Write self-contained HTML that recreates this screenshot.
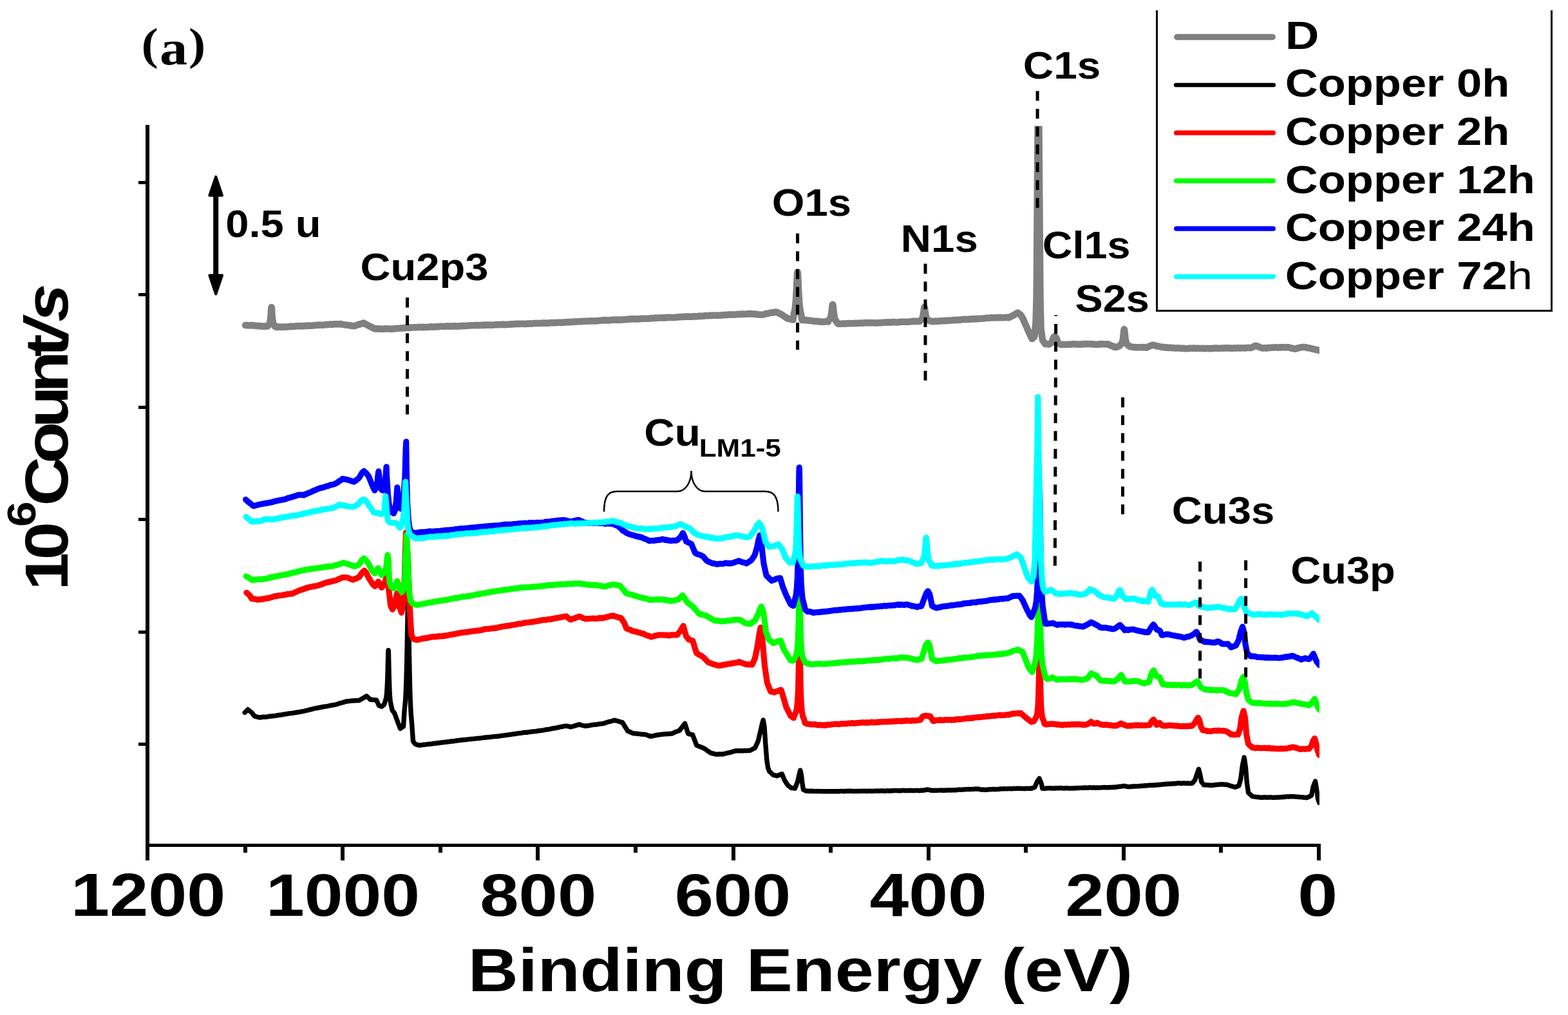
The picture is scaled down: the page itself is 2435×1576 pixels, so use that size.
<!DOCTYPE html>
<html lang="en"><head><meta charset="utf-8"><title>XPS survey spectra</title>
<style>
html,body{margin:0;padding:0;background:#fff;}
body{width:2435px;height:1576px;overflow:hidden;}
svg{display:block;}
text{font-kerning:none;fill:#000;white-space:pre;}
</style></head><body>
<svg xmlns="http://www.w3.org/2000/svg" width="2435" height="1576" viewBox="0 0 2435 1576">
<rect width="2435" height="1576" fill="#fff"/>
<defs><clipPath id="plot"><rect x="232" y="195.5" width="1817" height="1114.5"/></clipPath></defs>
<g clip-path="url(#plot)" fill="none" stroke-linejoin="round" stroke-linecap="round">
<polyline points="381.0,505.0 382.8,505.1 384.5,505.0 386.2,505.2 388.0,505.4 389.8,505.0 391.5,505.4 393.2,505.3 395.0,505.5 396.7,505.8 398.4,506.0 400.1,505.9 401.8,506.1 403.6,506.4 405.3,506.4 407.0,506.4 408.7,506.7 410.4,507.0 412.3,506.5 414.1,506.4 416.0,506.5 417.5,504.1 418.5,502.7 419.2,500.6 419.7,498.2 420.1,495.3 420.4,491.8 420.7,488.2 420.9,484.7 421.1,481.4 421.3,479.1 421.4,477.6 421.6,477.0 421.8,477.6 421.9,479.1 422.1,481.5 422.3,484.8 422.5,488.4 422.8,492.0 423.1,495.6 423.5,498.6 424.0,501.0 424.7,503.1 425.7,504.6 427.0,507.0 430.0,508.0 431.6,507.4 433.2,507.8 434.8,507.6 436.5,508.0 438.1,507.5 439.7,507.7 441.3,507.6 442.9,507.7 444.5,507.4 446.1,507.6 447.7,507.3 449.4,506.9 451.0,507.0 452.6,506.8 454.2,506.9 455.8,506.7 457.4,506.7 459.0,506.5 460.6,506.2 462.3,506.3 463.9,506.4 465.5,506.1 467.1,506.4 468.7,506.2 470.3,506.0 471.9,506.3 473.5,505.9 475.2,505.8 476.8,505.6 478.4,506.0 480.0,505.5 481.6,505.8 483.3,505.7 484.9,505.5 486.5,505.4 488.2,505.0 489.8,505.1 491.4,504.9 493.1,505.0 494.7,504.8 496.3,504.5 498.0,504.5 499.6,504.7 501.2,504.7 502.9,504.6 504.5,504.2 506.2,503.9 507.8,504.1 509.4,504.1 511.1,503.7 512.7,503.8 514.3,503.5 516.0,503.7 517.6,503.6 519.2,503.3 520.9,503.2 522.5,503.4 524.1,503.1 525.8,503.4 527.4,503.3 529.1,503.1 530.8,503.6 532.5,503.8 534.2,504.1 535.9,504.4 537.6,504.6 539.4,504.8 541.1,505.0 542.8,505.3 544.5,505.3 546.2,505.9 547.9,506.1 549.6,506.3 551.5,505.8 553.3,505.1 555.1,504.3 557.0,504.0 558.9,503.3 560.9,503.0 562.8,502.1 564.7,501.5 566.4,502.7 568.0,503.4 569.7,504.2 571.3,505.1 573.0,506.0 574.8,506.8 576.6,507.8 578.3,508.6 580.1,509.6 581.9,510.5 583.6,510.2 585.2,510.3 586.9,510.7 588.5,510.4 590.2,510.7 591.9,510.6 593.5,510.9 595.2,511.0 596.8,510.7 598.5,510.2 600.1,510.4 601.8,510.7 603.5,510.7 605.1,510.5 606.8,510.8 608.4,511.0 610.1,510.5 611.8,510.5 613.5,510.0 615.2,510.1 616.9,510.1 618.6,509.9 620.3,509.7 622.1,509.6 623.8,509.3 625.5,509.5 627.2,509.4 628.9,509.3 630.6,509.0 632.3,508.9 633.9,508.8 635.5,509.0 637.1,508.5 638.7,508.7 640.4,508.4 642.0,508.5 643.6,508.4 645.2,508.4 646.8,508.3 648.4,508.2 650.0,508.1 651.6,507.7 653.3,508.0 654.9,508.1 656.5,507.8 658.1,508.3 659.7,508.0 661.3,508.0 662.9,508.0 664.5,508.1 666.1,507.8 667.8,507.5 669.4,507.3 671.0,507.6 672.6,507.6 674.2,507.6 675.8,507.4 677.4,507.5 679.0,507.3 680.7,507.3 682.3,507.2 683.9,506.8 685.5,506.7 687.1,506.7 688.7,506.8 690.3,506.8 691.9,506.8 693.6,506.5 695.2,506.4 696.8,506.6 698.4,506.9 700.0,506.5 701.6,506.6 703.2,506.4 704.8,506.4 706.4,506.4 708.0,506.4 709.7,506.6 711.3,506.6 712.9,506.5 714.5,506.2 716.1,506.0 717.7,506.2 719.3,505.7 720.9,506.2 722.5,506.0 724.1,505.9 725.7,505.7 727.4,505.4 729.0,505.6 730.6,505.4 732.2,505.3 733.8,505.2 735.4,505.3 737.0,505.3 738.6,504.9 740.2,505.1 741.8,505.1 743.4,505.2 745.1,505.0 746.7,504.8 748.3,504.9 749.9,505.2 751.5,504.9 753.1,504.4 754.7,504.8 756.3,504.6 757.9,504.5 759.5,504.8 761.1,504.6 762.8,504.6 764.4,504.8 766.0,504.7 767.6,504.3 769.2,504.2 770.8,504.0 772.4,504.3 774.0,504.1 775.6,504.0 777.2,504.0 778.9,503.9 780.5,503.9 782.1,503.7 783.7,504.1 785.3,504.0 786.9,503.9 788.5,503.8 790.1,503.8 791.7,503.5 793.3,503.6 794.9,503.3 796.6,503.4 798.2,503.1 799.8,503.2 801.4,502.8 803.0,502.7 804.6,503.0 806.2,502.9 807.8,502.9 809.4,502.8 811.0,502.8 812.6,502.9 814.3,502.9 815.9,503.0 817.5,502.8 819.1,502.6 820.7,502.6 822.3,502.4 823.9,502.5 825.5,502.6 827.1,502.2 828.7,502.1 830.3,502.1 832.0,501.9 833.6,502.0 835.2,501.9 836.8,502.1 838.4,502.0 840.0,501.9 841.6,501.7 843.2,501.5 844.8,501.8 846.4,501.6 848.0,501.7 849.6,501.7 851.3,501.9 852.9,501.3 854.5,501.4 856.1,501.0 857.7,501.1 859.3,501.2 860.9,501.1 862.5,501.2 864.1,501.0 865.7,500.9 867.3,500.8 868.9,500.8 870.6,500.9 872.2,500.9 873.8,500.8 875.4,500.4 877.0,500.6 878.6,500.2 880.2,500.3 881.8,500.0 883.4,500.2 885.0,499.9 886.6,499.7 888.2,500.0 889.8,499.8 891.5,499.8 893.1,499.4 894.7,499.5 896.3,499.5 897.9,499.2 899.5,499.3 901.1,499.1 902.7,499.2 904.3,499.0 905.9,498.8 907.5,498.8 909.1,498.7 910.8,498.8 912.4,498.8 914.0,498.6 915.6,498.4 917.2,498.5 918.8,498.3 920.4,498.2 922.0,498.4 923.6,498.6 925.2,498.2 926.8,498.1 928.4,498.1 930.0,498.0 931.7,497.8 933.3,497.6 934.9,497.5 936.5,497.3 938.1,497.1 939.7,497.5 941.3,497.0 942.9,497.4 944.5,497.4 946.1,497.4 947.7,497.1 949.3,496.8 950.9,496.7 952.6,496.5 954.2,496.7 955.8,496.6 957.4,496.6 959.0,496.9 960.6,496.5 962.2,496.9 963.8,496.5 965.4,496.6 967.0,496.5 968.6,496.1 970.2,496.1 971.9,496.2 973.5,495.8 975.1,495.7 976.7,496.0 978.3,495.3 979.9,495.4 981.5,495.3 983.1,495.1 984.7,495.5 986.3,495.5 987.9,495.3 989.5,495.5 991.1,495.1 992.8,495.2 994.4,494.9 996.0,495.0 997.6,494.7 999.2,494.7 1000.8,494.8 1002.4,494.6 1004.0,494.7 1005.6,494.7 1007.2,494.6 1008.8,494.4 1010.4,494.5 1012.1,493.9 1013.7,494.1 1015.3,494.3 1016.9,493.8 1018.5,493.6 1020.1,493.8 1021.7,493.8 1023.3,493.5 1025.0,493.5 1026.6,493.5 1028.2,493.4 1029.9,493.4 1031.5,493.4 1033.1,493.5 1034.8,493.1 1036.4,493.0 1038.0,492.8 1039.6,493.2 1041.3,492.7 1042.9,492.9 1044.5,493.1 1046.2,493.0 1047.8,493.0 1049.4,492.7 1051.1,492.5 1052.7,492.3 1054.3,492.3 1056.0,492.2 1057.6,492.0 1059.2,491.9 1060.8,492.0 1062.5,491.8 1064.1,491.8 1065.7,491.5 1067.4,491.6 1069.0,491.6 1070.6,491.7 1072.3,491.8 1073.9,491.7 1075.5,491.4 1077.2,491.5 1078.8,491.4 1080.4,491.2 1082.1,491.4 1083.7,491.1 1085.3,491.2 1087.0,490.7 1088.6,490.9 1090.2,490.8 1091.8,490.8 1093.5,490.3 1095.1,490.3 1096.7,490.1 1098.4,490.2 1100.0,490.2 1101.6,489.7 1103.2,490.1 1104.8,490.0 1106.5,489.6 1108.1,489.8 1109.7,489.8 1111.3,489.7 1112.9,489.6 1114.5,489.6 1116.1,489.8 1117.7,489.7 1119.4,489.5 1121.0,489.4 1122.6,489.3 1124.2,489.1 1125.8,489.3 1127.4,488.9 1129.0,489.0 1130.6,488.7 1132.3,488.5 1133.9,488.4 1135.5,488.7 1137.1,488.6 1138.7,488.5 1140.3,488.4 1141.9,488.6 1143.5,488.3 1145.2,487.9 1146.8,488.0 1148.4,488.1 1150.0,487.7 1151.6,487.9 1153.2,487.6 1154.8,487.7 1156.4,487.7 1158.1,487.8 1159.7,487.5 1161.3,487.5 1162.9,487.1 1164.6,487.5 1166.2,487.4 1167.9,487.4 1169.6,487.6 1171.3,487.5 1173.0,487.9 1174.6,487.8 1176.3,488.1 1178.0,488.5 1179.7,488.5 1181.3,488.7 1183.0,488.7 1184.7,488.5 1186.4,488.3 1188.1,487.5 1189.9,487.2 1191.6,486.7 1193.3,486.6 1195.0,486.0 1196.7,485.8 1198.4,485.3 1200.1,485.4 1201.8,485.0 1203.5,484.8 1205.2,484.3 1207.0,485.1 1208.7,486.0 1210.5,486.8 1212.2,487.6 1214.0,488.5 1215.9,489.8 1217.8,491.2 1219.6,492.3 1221.5,493.6 1223.4,494.8 1225.0,495.1 1226.6,495.4 1228.3,495.8 1229.9,496.3 1231.5,496.4 1233.1,486.8 1234.3,481.6 1235.1,475.7 1235.8,468.3 1236.4,459.4 1236.9,450.5 1237.3,441.6 1237.6,433.5 1237.9,427.6 1238.2,423.9 1238.5,422.4 1238.8,423.9 1239.1,427.6 1239.4,433.6 1239.7,441.8 1240.1,450.7 1240.6,459.7 1241.2,468.7 1241.9,476.1 1242.7,482.1 1243.9,487.3 1245.5,497.0 1247.5,496.9 1249.6,496.8 1251.3,497.1 1252.9,497.2 1254.6,497.6 1256.2,497.5 1257.9,497.8 1259.6,497.8 1261.2,498.3 1262.9,498.7 1264.5,498.6 1266.2,498.8 1267.8,498.8 1269.5,499.1 1271.2,499.0 1272.8,499.2 1274.5,499.6 1276.1,499.7 1277.8,499.8 1279.4,499.6 1281.1,499.6 1282.7,499.3 1284.4,499.3 1286.0,499.5 1286.7,497.4 1288.2,496.0 1289.3,494.2 1290.1,492.0 1290.7,489.4 1291.2,486.1 1291.6,482.9 1292.0,479.7 1292.3,476.8 1292.6,474.7 1292.8,473.3 1293.1,472.8 1293.4,473.4 1293.6,474.8 1293.9,477.2 1294.2,480.4 1294.6,483.9 1295.0,487.4 1295.5,490.9 1296.1,493.8 1296.9,496.2 1298.0,498.2 1299.5,499.7 1300.5,502.0 1302.2,502.9 1303.8,502.7 1305.5,502.7 1307.1,502.6 1308.8,502.4 1310.4,502.6 1312.1,502.8 1313.7,502.5 1315.4,502.2 1317.0,502.2 1318.7,502.1 1320.3,502.3 1322.0,502.1 1323.6,502.2 1325.3,502.2 1326.9,501.8 1328.6,502.0 1330.2,501.7 1331.9,502.1 1333.5,501.9 1335.2,501.6 1336.8,501.6 1338.5,501.8 1340.1,501.5 1341.8,501.6 1343.4,501.3 1345.1,501.1 1346.7,501.0 1348.4,501.4 1350.0,501.5 1351.6,501.1 1353.2,501.2 1354.9,501.2 1356.5,501.3 1358.1,501.5 1359.7,501.5 1361.3,501.4 1362.9,501.4 1364.6,501.3 1366.2,501.1 1367.8,501.3 1369.4,500.9 1371.0,500.8 1372.7,500.8 1374.3,500.6 1375.9,500.6 1377.5,500.5 1379.1,500.3 1380.7,500.5 1382.4,500.6 1384.0,500.5 1385.6,500.1 1387.2,500.1 1388.8,500.2 1390.5,500.3 1392.1,500.6 1393.7,500.4 1395.3,500.2 1396.9,499.9 1398.5,499.8 1400.2,499.8 1401.8,499.8 1403.4,499.8 1405.0,499.8 1406.6,499.7 1408.3,499.7 1409.9,499.8 1411.5,499.8 1413.1,499.6 1414.7,499.3 1416.3,499.2 1418.0,498.7 1419.6,498.7 1421.2,499.2 1423.0,498.7 1424.7,498.9 1426.5,498.9 1428.2,498.8 1430.1,497.0 1431.4,495.9 1432.3,494.4 1432.9,492.6 1433.5,490.4 1433.9,487.8 1434.2,485.2 1434.6,482.5 1434.8,480.1 1435.1,478.3 1435.3,477.2 1435.5,476.8 1435.7,477.2 1435.9,478.3 1436.2,480.0 1436.4,482.3 1436.8,484.9 1437.1,487.4 1437.5,489.9 1438.1,492.1 1438.7,493.8 1439.6,495.2 1440.9,496.3 1443.4,498.0 1445.4,498.7 1447.4,499.2 1449.0,499.2 1450.7,498.9 1452.3,498.6 1454.0,499.0 1455.6,498.8 1457.3,498.6 1458.9,498.7 1460.6,498.3 1462.2,498.1 1463.8,498.2 1465.5,498.2 1467.1,497.9 1468.8,498.2 1470.4,497.8 1472.1,497.6 1473.7,497.9 1475.3,497.6 1477.0,497.4 1478.6,497.2 1480.3,496.8 1481.9,497.1 1483.6,497.0 1485.2,496.9 1486.8,497.0 1488.5,496.7 1490.1,496.6 1491.8,496.8 1493.4,496.3 1495.1,495.9 1496.7,495.8 1498.4,496.1 1500.0,496.0 1501.6,495.8 1503.2,495.9 1504.9,495.9 1506.5,495.4 1508.1,495.5 1509.7,495.5 1511.4,495.1 1513.0,495.5 1514.6,495.3 1516.2,494.9 1517.9,495.2 1519.5,494.8 1521.1,494.8 1522.7,494.8 1524.3,494.7 1526.0,494.6 1527.6,494.4 1529.2,494.3 1530.8,494.0 1532.5,493.8 1534.1,493.7 1535.7,493.7 1537.3,493.7 1539.0,493.2 1540.6,493.3 1542.2,493.2 1543.8,493.4 1545.4,493.2 1547.0,493.2 1548.7,493.0 1550.3,493.1 1551.9,493.2 1553.5,492.9 1555.1,493.3 1556.7,493.3 1558.3,493.2 1559.9,493.0 1561.6,493.0 1563.2,492.9 1564.8,492.9 1566.4,493.2 1568.3,492.2 1570.2,491.2 1572.1,490.4 1574.0,489.5 1575.6,488.5 1577.2,487.5 1578.9,486.5 1580.5,485.7 1582.8,487.3 1585.0,489.0 1586.8,491.9 1588.6,494.8 1590.4,499.1 1592.3,503.4 1594.2,507.6 1596.0,512.0 1597.7,515.5 1599.3,519.1 1601.0,522.6 1602.7,526.1 1604.5,524.5 1606.3,523.0 1608.6,500.0 1609.7,460.0 1611.6,196.0 1612.5,84.0 1613.4,196.0 1615.4,460.0 1616.5,510.0 1619.0,528.0 1621.0,531.0 1622.9,534.1 1624.9,534.2 1626.9,534.2 1628.9,534.7 1631.0,533.3 1633.0,532.0 1636.0,524.0 1638.0,522.2 1640.5,525.0 1643.5,533.0 1645.3,534.0 1647.1,535.1 1648.7,534.9 1650.3,535.0 1651.9,534.9 1653.5,535.0 1655.1,535.0 1656.7,534.7 1658.3,534.7 1659.9,534.8 1661.5,534.8 1663.1,534.8 1664.7,534.6 1666.3,534.2 1667.9,534.2 1669.5,534.4 1671.1,534.5 1672.7,534.4 1674.3,534.6 1675.9,534.6 1677.5,534.7 1679.1,534.4 1680.7,534.4 1682.3,534.2 1683.9,533.9 1685.5,534.2 1687.1,534.3 1688.7,534.0 1690.3,534.0 1691.9,534.1 1693.5,534.1 1695.1,534.5 1696.8,534.4 1698.4,534.4 1700.0,534.7 1701.7,534.8 1703.4,534.9 1705.0,534.7 1706.7,534.6 1708.4,534.1 1710.1,534.3 1711.8,534.2 1713.5,534.5 1715.2,534.5 1716.8,534.5 1718.5,534.2 1720.2,534.1 1721.9,535.0 1723.5,535.8 1725.2,536.5 1726.8,537.2 1728.5,537.7 1730.1,538.7 1731.8,539.2 1733.4,538.8 1735.0,538.4 1736.7,537.9 1738.3,537.2 1740.4,535.1 1741.7,533.8 1742.6,532.0 1743.2,529.9 1743.8,527.3 1744.2,524.2 1744.5,521.0 1744.9,517.9 1745.1,515.0 1745.4,512.9 1745.6,511.6 1745.8,511.1 1746.0,511.6 1746.2,512.9 1746.5,515.1 1746.7,518.0 1747.1,521.1 1747.4,524.3 1747.8,527.5 1748.4,530.1 1749.0,532.2 1749.9,534.1 1751.2,535.4 1753.4,537.5 1755.2,538.1 1757.0,538.4 1758.7,538.8 1760.5,539.2 1762.2,539.0 1763.9,539.2 1765.5,539.2 1767.2,539.5 1768.9,539.3 1770.6,539.3 1772.3,539.3 1774.0,539.5 1775.7,539.1 1777.3,539.3 1779.0,539.7 1780.7,539.6 1782.5,538.9 1784.3,537.8 1786.2,537.2 1788.0,536.4 1789.8,535.5 1791.6,536.0 1793.4,536.3 1795.2,537.1 1797.0,537.5 1799.0,537.6 1801.0,538.3 1802.9,538.5 1804.9,539.2 1806.6,539.0 1808.2,539.2 1809.9,539.7 1811.5,539.5 1813.2,539.9 1814.8,539.7 1816.5,539.9 1818.1,539.9 1819.8,540.2 1821.4,540.1 1823.1,540.4 1824.7,540.5 1826.4,540.6 1828.0,540.4 1829.7,540.5 1831.3,540.5 1833.0,540.8 1834.6,540.9 1836.2,540.8 1837.9,540.9 1839.5,541.1 1841.2,541.2 1842.8,541.3 1844.5,541.2 1846.1,541.1 1847.7,540.8 1849.4,540.7 1851.0,540.8 1852.6,540.9 1854.3,540.6 1855.9,540.8 1857.5,541.0 1859.2,540.8 1860.8,540.7 1862.4,541.0 1864.1,541.0 1865.7,541.0 1867.3,540.9 1869.0,541.1 1870.6,541.3 1872.2,541.1 1873.9,541.0 1875.5,541.0 1877.1,541.1 1878.8,541.2 1880.4,541.0 1882.0,541.1 1883.7,540.8 1885.3,540.9 1886.9,540.6 1888.6,540.6 1890.2,540.8 1891.8,540.9 1893.5,540.8 1895.1,540.8 1896.7,540.8 1898.4,540.6 1900.0,540.6 1901.6,540.5 1903.2,540.3 1904.8,540.6 1906.5,540.4 1908.1,540.2 1909.7,540.7 1911.3,540.5 1912.9,540.6 1914.5,540.7 1916.2,540.4 1917.8,540.6 1919.4,540.5 1921.0,540.4 1922.6,540.4 1924.2,540.3 1925.8,540.6 1927.5,540.4 1929.1,540.3 1930.7,540.2 1932.3,540.4 1933.9,540.5 1935.5,540.2 1937.2,540.0 1938.8,539.9 1940.4,540.1 1942.0,540.2 1943.6,539.6 1945.2,538.9 1946.9,538.1 1948.5,537.4 1950.1,536.8 1951.8,537.3 1953.5,537.9 1955.2,538.7 1956.8,539.4 1958.5,540.0 1960.2,540.6 1961.9,540.5 1963.5,540.4 1965.2,540.2 1966.9,540.7 1968.5,540.0 1970.2,540.1 1971.9,539.9 1973.5,539.9 1975.2,539.6 1976.9,539.5 1978.5,539.5 1980.2,539.5 1981.8,539.4 1983.5,539.6 1985.2,539.6 1986.8,539.5 1988.5,539.2 1990.2,539.5 1991.8,539.1 1993.5,539.2 1995.2,539.6 1996.8,539.4 1998.5,539.2 2000.2,539.2 2002.0,539.7 2003.7,540.1 2005.4,540.6 2007.1,540.7 2008.9,541.1 2010.6,541.6 2012.4,541.5 2014.1,540.8 2015.9,540.5 2017.7,539.9 2019.4,539.6 2021.2,539.3 2022.9,539.2 2024.7,538.8 2026.3,539.3 2027.9,539.4 2029.5,539.8 2031.2,540.3 2032.8,540.3 2034.4,540.7 2036.0,541.0 2037.6,541.5 2039.2,542.1 2040.9,542.3 2042.5,542.7 2044.1,543.1 2045.8,543.2 2047.4,543.7 2049.0,544.2 2050.8,544.6 2052.5,544.7 2054.2,545.0 2056.0,545.5" stroke="#808080" stroke-width="10.6"/>
<polyline points="380.2,1106.4 382.5,1104.2 384.9,1101.7 386.9,1103.2 388.9,1104.9 390.9,1106.4 392.9,1109.1 395.0,1111.8 396.7,1112.4 398.4,1112.8 400.0,1113.3 401.7,1113.8 403.4,1114.0 405.2,1113.8 406.9,1113.5 408.6,1113.2 410.3,1113.2 412.1,1113.3 413.8,1113.1 415.5,1112.8 417.2,1112.4 418.8,1112.1 420.5,1112.2 422.2,1111.7 423.9,1111.8 425.6,1111.6 427.2,1111.3 428.9,1111.1 430.6,1110.7 432.3,1110.6 434.0,1110.2 435.7,1110.1 437.3,1109.8 439.0,1109.5 440.7,1109.1 442.4,1108.9 444.1,1108.8 445.7,1108.4 447.4,1108.0 449.1,1107.8 450.8,1107.6 452.5,1107.4 454.1,1107.4 455.8,1107.0 457.5,1106.7 459.2,1106.3 460.9,1106.2 462.6,1105.7 464.2,1105.7 465.9,1105.4 467.6,1105.0 469.3,1104.7 471.0,1104.4 472.6,1104.1 474.3,1103.5 476.0,1103.1 477.7,1102.8 479.4,1102.4 481.1,1101.8 482.7,1101.5 484.4,1101.2 486.1,1100.7 487.8,1100.1 489.5,1099.9 491.1,1099.6 492.8,1099.1 494.5,1099.0 496.2,1098.6 497.9,1098.2 499.5,1098.1 501.2,1097.6 502.9,1097.2 504.5,1097.1 506.2,1096.9 507.9,1096.7 509.6,1096.2 511.2,1095.9 512.9,1095.5 514.6,1095.2 516.3,1095.0 517.9,1094.6 519.6,1094.4 521.3,1094.0 523.0,1093.6 524.8,1093.0 526.5,1092.3 528.3,1091.7 530.0,1091.3 531.8,1090.9 533.5,1090.5 535.3,1089.8 537.0,1089.3 538.8,1088.9 540.5,1088.8 542.2,1088.6 543.9,1088.5 545.6,1088.1 547.3,1088.0 549.1,1088.1 550.8,1087.8 552.5,1087.7 554.2,1087.7 555.9,1087.6 557.6,1087.6 559.4,1086.5 561.2,1085.6 563.0,1084.5 565.0,1083.3 567.1,1081.9 569.1,1080.8 571.1,1082.6 573.1,1084.3 575.1,1086.2 577.0,1086.3 578.9,1086.6 580.7,1086.6 582.6,1086.9 584.5,1086.9 586.5,1091.3 588.6,1095.6 590.6,1096.3 592.6,1097.2 594.5,1095.6 596.5,1094.0 598.7,1087.2 599.7,1083.0 600.5,1077.1 601.0,1070.4 601.4,1061.9 601.8,1051.8 602.1,1041.7 602.3,1031.5 602.6,1022.3 602.7,1015.5 602.9,1011.3 603.1,1009.6 603.3,1011.5 603.5,1016.1 603.6,1023.6 603.9,1033.9 604.1,1045.1 604.4,1056.3 604.8,1067.5 605.2,1076.8 605.7,1084.3 606.5,1090.9 607.5,1095.5 609.2,1103.0 611.0,1105.3 612.8,1107.7 614.5,1112.4 616.3,1117.2 618.0,1122.0 619.8,1126.6 621.5,1131.3 623.2,1130.2 624.8,1129.0 626.5,1128.0 628.1,1102.8 629.4,1089.2 630.3,1073.7 631.0,1054.3 631.6,1031.0 632.1,1007.7 632.5,984.4 632.9,963.1 633.2,947.6 633.5,937.9 633.8,934.0 634.1,938.3 634.4,949.2 634.7,966.5 635.1,990.4 635.5,1016.5 636.0,1042.5 636.6,1068.5 637.3,1090.2 638.2,1107.6 639.5,1122.8 641.5,1151.0 643.2,1153.2 645.0,1155.5 646.9,1156.0 648.9,1156.7 650.8,1157.4 652.4,1156.9 654.0,1156.9 655.6,1156.8 657.2,1156.3 658.8,1156.4 660.5,1156.1 662.1,1155.9 663.7,1155.6 665.3,1155.5 666.9,1155.2 668.6,1155.3 670.3,1155.1 671.9,1154.6 673.6,1154.4 675.3,1154.3 677.0,1154.2 678.7,1153.8 680.3,1153.9 682.0,1153.4 683.7,1153.0 685.4,1153.2 687.1,1152.7 688.8,1152.5 690.4,1152.5 692.1,1152.2 693.8,1152.0 695.5,1151.7 697.2,1151.7 698.8,1151.3 700.5,1151.0 702.2,1151.0 703.9,1150.8 705.6,1150.8 707.2,1150.3 708.9,1150.0 710.6,1150.0 712.3,1149.6 714.0,1149.3 715.7,1149.3 717.3,1149.0 719.0,1148.8 720.7,1148.5 722.4,1148.6 724.1,1148.5 725.7,1148.1 727.4,1147.9 729.1,1147.9 730.8,1147.5 732.5,1147.5 734.2,1147.3 735.8,1147.1 737.5,1146.9 739.2,1146.9 740.9,1146.6 742.6,1146.3 744.2,1146.3 745.9,1146.1 747.6,1145.8 749.3,1145.6 751.0,1145.3 752.6,1145.2 754.3,1145.2 756.0,1144.6 757.7,1144.8 759.4,1144.6 761.0,1144.5 762.7,1144.1 764.4,1143.9 766.1,1143.9 767.8,1143.7 769.5,1143.5 771.1,1143.5 772.8,1143.2 774.5,1143.1 776.2,1142.8 777.9,1142.5 779.5,1142.2 781.2,1142.1 782.9,1141.8 784.5,1141.7 786.2,1141.4 787.9,1141.1 789.6,1140.8 791.2,1140.7 792.9,1140.6 794.6,1140.2 796.3,1139.9 797.9,1139.7 799.6,1139.6 801.3,1139.1 803.0,1139.1 804.7,1138.7 806.3,1138.5 808.0,1138.4 809.7,1138.1 811.4,1137.8 813.1,1137.4 814.8,1137.3 816.4,1137.1 818.1,1137.3 819.8,1137.0 821.5,1136.7 823.2,1136.4 824.8,1136.3 826.5,1136.0 828.2,1135.9 829.9,1135.6 831.6,1135.5 833.2,1135.3 834.9,1135.0 836.6,1134.7 838.3,1134.6 840.0,1134.3 841.7,1134.2 843.3,1133.9 845.0,1133.5 846.7,1133.2 848.4,1132.8 850.1,1132.7 851.7,1132.5 853.4,1132.2 855.1,1131.8 856.7,1131.3 858.3,1131.0 859.9,1131.0 861.6,1130.6 863.2,1130.2 864.8,1130.0 866.4,1129.7 868.0,1129.2 869.6,1128.9 871.2,1128.5 872.8,1128.3 874.5,1127.9 876.1,1127.5 877.7,1127.3 879.3,1127.1 881.0,1127.5 882.6,1127.7 884.3,1128.3 886.0,1128.8 887.7,1128.2 889.4,1127.9 891.1,1127.4 892.8,1126.8 894.4,1126.4 896.1,1125.9 897.8,1125.4 899.5,1124.8 901.4,1125.4 903.3,1126.0 905.1,1126.5 907.0,1126.9 908.9,1127.3 910.6,1127.0 912.3,1127.0 913.9,1126.6 915.6,1126.5 917.3,1126.0 919.0,1125.7 920.7,1125.5 922.3,1125.2 924.0,1125.0 925.7,1125.1 927.4,1124.8 929.1,1124.4 930.8,1124.1 932.4,1123.9 934.1,1123.9 935.8,1123.6 937.5,1123.1 939.2,1122.8 940.9,1122.1 942.6,1121.5 944.3,1121.0 946.1,1120.4 947.8,1120.1 949.5,1119.8 951.2,1119.3 952.9,1118.8 954.6,1118.3 956.3,1118.9 958.1,1119.3 959.8,1119.8 961.5,1120.3 963.2,1120.9 965.0,1121.4 966.7,1121.9 968.3,1124.5 969.9,1127.2 971.6,1129.8 973.2,1132.4 974.8,1135.0 976.4,1135.7 978.0,1136.3 979.7,1137.1 981.3,1137.9 982.9,1138.6 984.6,1138.8 986.3,1138.9 988.0,1139.2 989.6,1139.1 991.3,1139.3 993.0,1139.6 994.7,1139.8 996.4,1140.1 998.0,1140.1 999.7,1140.3 1001.4,1140.4 1003.1,1140.6 1004.9,1141.4 1006.6,1142.0 1008.4,1142.8 1010.1,1143.4 1011.7,1143.0 1013.4,1142.8 1015.0,1142.4 1016.7,1142.1 1018.3,1141.7 1019.9,1141.3 1021.6,1141.2 1023.2,1140.6 1024.9,1140.7 1026.6,1140.4 1028.2,1140.2 1029.9,1140.1 1031.6,1139.8 1033.3,1139.7 1035.0,1139.6 1036.7,1139.4 1038.4,1139.5 1040.0,1139.5 1041.7,1139.1 1043.4,1139.0 1045.1,1138.3 1046.9,1137.6 1048.6,1136.7 1050.3,1136.0 1052.0,1135.4 1053.8,1134.7 1055.5,1134.0 1057.1,1131.8 1058.7,1129.7 1060.4,1127.6 1062.0,1125.4 1063.6,1123.3 1065.3,1128.6 1066.9,1133.8 1068.6,1139.0 1070.4,1139.7 1072.2,1139.9 1073.9,1140.7 1075.7,1141.0 1077.7,1146.4 1079.7,1151.8 1081.7,1157.2 1083.4,1158.0 1085.2,1158.6 1086.9,1159.3 1088.6,1160.0 1090.3,1160.7 1092.1,1161.5 1093.8,1162.2 1095.5,1163.4 1097.2,1164.5 1098.8,1165.8 1100.5,1166.9 1102.2,1168.0 1103.9,1169.3 1105.5,1169.6 1107.2,1169.9 1108.8,1170.4 1110.5,1170.8 1112.1,1171.1 1114.0,1171.3 1115.9,1170.9 1117.7,1171.0 1119.6,1170.9 1121.5,1171.1 1123.2,1170.7 1125.0,1170.5 1126.7,1169.9 1128.4,1169.5 1130.1,1168.9 1131.9,1168.7 1133.6,1168.4 1135.5,1167.9 1137.4,1167.2 1139.2,1166.8 1141.1,1166.2 1143.0,1165.7 1144.7,1165.7 1146.3,1165.7 1148.0,1165.7 1149.6,1165.6 1151.3,1165.8 1152.9,1165.6 1154.6,1165.7 1156.2,1165.5 1157.9,1165.7 1159.5,1165.5 1161.2,1165.5 1162.8,1165.4 1164.5,1165.4 1166.1,1164.7 1167.7,1163.7 1169.4,1162.8 1171.0,1162.0 1172.6,1161.0 1174.2,1157.4 1175.9,1153.7 1177.5,1150.0 1179.2,1142.5 1181.0,1135.0 1183.5,1124.0 1185.2,1118.0 1187.0,1128.0 1188.8,1155.0 1190.8,1180.0 1192.6,1192.0 1194.6,1197.6 1196.7,1199.5 1198.7,1201.4 1200.8,1203.4 1202.6,1203.7 1204.4,1204.1 1206.2,1204.7 1207.8,1204.1 1209.4,1203.6 1211.1,1202.8 1212.7,1202.2 1214.3,1201.7 1216.3,1206.6 1218.3,1211.4 1220.1,1214.1 1221.9,1216.9 1223.7,1219.5 1225.5,1220.9 1227.3,1222.2 1229.1,1223.5 1230.9,1223.6 1232.7,1223.8 1234.5,1224.2 1236.5,1219.1 1238.5,1214.0 1241.0,1203.0 1242.8,1196.0 1244.6,1204.0 1245.9,1216.0 1247.5,1226.2 1249.7,1227.1 1251.9,1228.2 1253.5,1228.2 1255.2,1228.1 1256.8,1228.3 1258.4,1228.5 1260.1,1228.2 1261.7,1228.5 1263.3,1228.5 1265.0,1228.6 1266.6,1228.6 1268.3,1228.6 1269.9,1228.5 1271.5,1228.5 1273.2,1228.7 1274.8,1228.6 1276.4,1228.6 1278.0,1228.8 1279.7,1228.7 1281.3,1228.6 1282.9,1228.8 1284.5,1228.9 1286.2,1228.7 1287.8,1228.8 1289.4,1228.7 1291.0,1228.7 1292.6,1228.7 1294.3,1228.6 1295.9,1228.8 1297.5,1228.6 1299.1,1228.7 1300.8,1228.7 1302.4,1228.8 1304.0,1228.7 1305.6,1228.4 1307.2,1228.4 1308.9,1228.6 1310.5,1228.7 1312.1,1228.6 1313.7,1228.2 1315.4,1228.4 1317.0,1228.5 1318.6,1228.2 1320.2,1228.3 1321.8,1228.2 1323.5,1228.3 1325.1,1228.6 1326.7,1228.6 1328.3,1228.4 1330.0,1228.4 1331.6,1228.5 1333.2,1228.5 1334.8,1228.3 1336.5,1228.4 1338.1,1228.4 1339.7,1228.3 1341.3,1228.4 1342.9,1228.3 1344.6,1228.3 1346.2,1228.5 1347.8,1228.3 1349.4,1228.3 1351.1,1228.2 1352.7,1228.3 1354.3,1228.5 1355.9,1228.4 1357.5,1228.1 1359.2,1228.1 1360.8,1228.2 1362.4,1227.9 1364.0,1228.2 1365.7,1228.1 1367.3,1228.0 1368.9,1228.2 1370.5,1227.8 1372.2,1228.0 1373.8,1228.3 1375.4,1228.3 1377.1,1227.8 1378.7,1227.8 1380.4,1228.0 1382.0,1228.0 1383.6,1228.0 1385.3,1227.7 1386.9,1227.7 1388.5,1227.6 1390.2,1227.5 1391.8,1227.5 1393.5,1227.6 1395.1,1227.7 1396.7,1227.8 1398.4,1227.7 1400.0,1227.6 1401.7,1227.2 1403.4,1227.4 1405.0,1227.5 1406.7,1227.7 1408.4,1227.5 1410.1,1227.7 1411.8,1227.5 1413.4,1227.2 1415.1,1227.5 1416.8,1227.6 1418.5,1227.5 1420.2,1227.6 1421.8,1227.4 1423.5,1227.4 1425.2,1227.3 1426.9,1227.7 1428.6,1227.5 1430.2,1227.2 1431.9,1227.4 1433.6,1227.3 1435.3,1226.8 1436.9,1226.7 1438.6,1226.3 1440.3,1225.9 1442.1,1226.3 1443.9,1226.8 1445.7,1227.3 1447.4,1227.3 1449.0,1227.3 1450.7,1227.5 1452.4,1227.2 1454.0,1227.4 1455.7,1227.3 1457.4,1227.1 1459.0,1227.1 1460.7,1227.1 1462.4,1227.0 1464.0,1227.3 1465.7,1227.2 1467.4,1227.2 1469.0,1227.0 1470.7,1227.0 1472.4,1227.0 1474.0,1226.8 1475.7,1226.8 1477.4,1227.0 1479.0,1226.8 1480.7,1226.9 1482.3,1226.6 1484.0,1226.7 1485.6,1226.7 1487.2,1226.3 1488.9,1226.2 1490.5,1226.0 1492.1,1226.2 1493.8,1226.1 1495.4,1226.1 1497.0,1225.8 1498.7,1225.7 1500.3,1225.6 1502.0,1225.6 1503.6,1225.5 1505.2,1225.5 1506.9,1225.6 1508.5,1225.4 1510.1,1225.4 1511.8,1225.4 1513.4,1225.2 1515.0,1224.9 1516.7,1225.2 1518.3,1224.9 1520.0,1225.2 1521.7,1225.7 1523.3,1226.0 1525.0,1226.2 1526.7,1226.0 1528.3,1226.2 1530.0,1226.1 1531.6,1226.3 1533.2,1226.2 1534.9,1225.7 1536.5,1225.7 1538.2,1225.8 1539.8,1225.6 1541.5,1225.5 1543.2,1225.7 1544.8,1225.4 1546.5,1225.6 1548.1,1225.6 1549.8,1225.4 1551.4,1225.3 1553.0,1225.0 1554.7,1224.8 1556.3,1224.9 1558.0,1224.7 1559.6,1224.8 1561.3,1224.6 1562.9,1224.6 1564.5,1224.8 1566.1,1224.6 1567.8,1224.5 1569.4,1224.6 1571.0,1224.8 1572.6,1224.4 1574.2,1224.3 1575.8,1224.5 1577.5,1224.4 1579.1,1224.3 1580.7,1224.3 1582.3,1224.3 1583.9,1224.4 1585.5,1224.2 1587.2,1224.4 1588.8,1224.4 1590.4,1224.7 1592.0,1224.5 1593.6,1224.1 1595.2,1224.3 1596.9,1224.4 1598.5,1224.2 1600.1,1224.1 1601.7,1224.2 1603.5,1223.5 1605.2,1223.0 1607.0,1222.2 1608.7,1218.1 1610.4,1214.0 1612.2,1211.4 1614.0,1208.7 1617.1,1216.5 1618.8,1224.2 1620.5,1224.0 1622.1,1224.4 1623.8,1224.2 1625.4,1224.0 1627.1,1223.9 1628.7,1223.9 1630.4,1223.8 1632.1,1223.8 1633.7,1224.1 1635.4,1224.0 1637.0,1224.2 1638.7,1223.8 1640.3,1223.9 1642.0,1223.8 1643.7,1223.8 1645.4,1223.6 1647.0,1223.5 1648.7,1223.8 1650.4,1223.8 1652.1,1224.1 1653.8,1223.8 1655.5,1223.8 1657.1,1223.9 1658.8,1223.8 1660.5,1224.0 1662.2,1224.1 1663.9,1223.9 1665.5,1224.1 1667.2,1223.9 1668.9,1223.8 1670.5,1223.7 1672.2,1223.7 1673.8,1223.5 1675.4,1223.6 1677.1,1223.4 1678.7,1223.4 1680.4,1223.4 1682.0,1223.3 1683.6,1223.3 1685.3,1222.9 1686.9,1223.2 1688.5,1223.3 1690.2,1223.2 1691.8,1222.8 1693.5,1222.9 1695.1,1223.0 1696.7,1223.2 1698.4,1223.0 1700.0,1223.0 1701.7,1223.3 1703.4,1223.0 1705.0,1223.1 1706.7,1222.9 1708.4,1223.1 1710.1,1222.9 1711.8,1222.8 1713.5,1222.7 1715.2,1222.5 1716.8,1222.9 1718.5,1222.7 1720.2,1222.7 1721.9,1222.8 1723.6,1222.4 1725.2,1222.5 1726.9,1222.7 1728.6,1222.3 1730.3,1222.3 1732.0,1222.2 1733.7,1222.1 1735.3,1221.7 1737.0,1221.5 1738.7,1221.2 1740.4,1221.1 1742.0,1220.9 1743.7,1220.7 1745.4,1220.3 1747.4,1220.7 1749.4,1221.2 1751.4,1221.5 1753.0,1221.6 1754.7,1221.4 1756.3,1221.5 1758.0,1221.2 1759.6,1221.0 1761.2,1220.8 1762.9,1221.0 1764.5,1220.9 1766.2,1220.9 1767.8,1220.7 1769.5,1220.7 1771.1,1220.5 1772.7,1220.2 1774.4,1220.3 1776.0,1220.1 1777.7,1219.7 1779.3,1220.0 1781.0,1219.8 1782.6,1219.5 1784.2,1219.3 1785.9,1219.4 1787.5,1219.2 1789.2,1219.1 1790.8,1219.2 1792.4,1218.9 1794.1,1219.1 1795.7,1218.7 1797.4,1218.6 1799.0,1218.8 1800.7,1218.3 1802.3,1218.3 1803.9,1218.2 1805.6,1217.9 1807.2,1217.8 1808.9,1217.7 1810.5,1217.5 1812.2,1217.2 1813.8,1217.3 1815.5,1217.2 1817.1,1217.0 1818.7,1217.1 1820.4,1216.8 1822.0,1216.8 1823.7,1216.8 1825.3,1216.5 1827.0,1216.3 1828.6,1216.2 1830.2,1215.9 1831.8,1216.1 1833.5,1216.3 1835.1,1216.2 1836.7,1216.2 1838.3,1216.0 1839.9,1216.2 1841.6,1216.3 1843.2,1216.4 1844.8,1216.0 1846.4,1216.4 1848.1,1216.5 1849.7,1216.2 1851.3,1216.2 1853.5,1213.7 1855.8,1211.0 1858.8,1202.0 1861.5,1194.3 1864.0,1204.0 1865.8,1214.0 1867.6,1216.4 1869.4,1218.8 1871.1,1218.9 1872.9,1218.8 1874.6,1218.9 1876.3,1219.0 1878.0,1219.2 1879.8,1219.3 1881.5,1219.2 1883.2,1219.2 1884.9,1219.0 1886.5,1218.7 1888.2,1218.6 1889.9,1218.4 1891.6,1218.3 1893.2,1218.2 1894.9,1217.9 1896.6,1217.7 1898.4,1218.0 1900.2,1217.9 1902.1,1218.3 1903.9,1218.2 1905.7,1218.5 1907.4,1219.0 1909.2,1219.6 1910.9,1220.3 1912.6,1220.7 1914.3,1221.3 1916.1,1221.8 1917.8,1222.3 1919.8,1221.5 1921.9,1220.9 1923.9,1220.0 1926.9,1209.0 1929.5,1188.0 1932.2,1176.1 1934.5,1192.0 1936.3,1215.0 1938.5,1230.6 1940.1,1232.2 1941.8,1233.7 1943.4,1235.2 1945.0,1236.6 1946.7,1236.9 1948.5,1237.1 1950.2,1237.3 1951.9,1237.6 1953.6,1237.5 1955.4,1237.9 1957.1,1238.2 1958.7,1238.2 1960.3,1238.3 1961.9,1238.0 1963.6,1238.0 1965.2,1237.9 1966.8,1238.2 1968.4,1238.2 1970.0,1238.1 1971.6,1238.0 1973.2,1238.0 1974.8,1238.1 1976.5,1238.3 1978.1,1238.3 1979.7,1238.4 1981.3,1238.2 1982.9,1238.0 1984.5,1238.2 1986.1,1238.0 1987.8,1237.8 1989.4,1237.6 1991.0,1237.8 1992.6,1237.3 1994.2,1237.5 1995.8,1237.3 1997.4,1236.9 1999.0,1236.9 2000.6,1237.0 2002.3,1236.9 2003.9,1236.8 2005.5,1236.7 2007.1,1236.6 2008.7,1236.8 2010.3,1236.9 2011.9,1237.1 2013.6,1237.1 2015.2,1237.2 2016.8,1237.5 2018.4,1237.6 2020.0,1237.6 2021.6,1237.9 2023.2,1237.9 2024.9,1238.3 2026.5,1238.4 2028.1,1238.7 2029.7,1238.5 2031.4,1237.7 2033.2,1237.0 2034.9,1236.1 2036.6,1235.1 2039.3,1221.5 2040.9,1217.4 2042.6,1213.2 2045.3,1230.0 2046.6,1240.0 2048.7,1246.5 2050.8,1247.0 2053.0,1247.5" stroke="#000000" stroke-width="7.4"/>
<polyline points="382.9,920.3 384.7,921.8 386.4,923.4 388.2,925.0 390.9,929.7 392.8,929.7 394.7,930.2 396.5,930.1 398.4,930.8 400.3,931.1 402.0,931.0 403.7,930.6 405.4,930.8 407.1,930.4 408.7,929.8 410.4,929.9 412.1,929.2 413.8,929.1 415.5,928.9 417.1,928.7 418.8,928.3 420.5,927.7 422.2,927.3 423.9,926.6 425.5,926.0 427.2,925.7 428.9,925.6 430.6,925.2 432.4,924.9 434.1,924.6 435.8,924.5 437.5,924.3 439.2,924.2 440.9,923.4 442.7,923.7 444.4,923.2 446.1,922.4 448.0,922.4 449.9,922.4 451.7,921.6 453.6,922.0 455.5,921.0 457.2,920.4 459.0,919.3 460.7,918.8 462.4,917.8 464.1,917.0 465.9,916.4 467.6,915.6 469.3,915.6 471.0,915.1 472.6,914.0 474.3,913.5 476.0,913.0 477.6,912.4 479.3,912.1 481.0,911.6 482.7,911.3 484.4,910.9 486.1,910.6 487.8,910.4 489.4,910.0 491.1,909.8 492.8,909.5 494.5,908.9 496.2,908.2 497.9,907.9 499.5,907.0 501.2,906.7 502.9,905.9 504.5,905.1 506.2,904.8 507.9,904.2 509.6,903.9 511.2,903.8 512.9,902.8 514.6,903.1 516.3,902.4 517.9,902.0 519.6,901.6 521.3,901.5 523.1,900.6 524.9,899.6 526.7,898.8 528.5,898.3 530.3,897.2 532.1,896.5 533.7,896.5 535.3,896.6 537.0,896.6 538.6,896.8 540.2,897.1 541.8,897.8 543.4,898.4 545.0,899.1 546.6,899.8 548.2,900.2 550.1,899.3 552.0,898.5 553.8,898.0 555.7,896.8 557.6,896.1 559.8,892.9 562.0,889.5 563.9,887.7 565.7,885.8 567.4,887.9 569.0,890.0 570.7,893.5 572.4,897.0 574.0,899.6 575.7,902.2 577.4,904.9 579.0,907.5 580.8,909.0 582.5,910.3 585.5,906.0 587.5,903.0 590.0,908.0 592.6,912.3 594.5,910.3 596.5,908.0 599.0,900.0 600.5,893.0 602.5,903.0 604.5,922.0 606.5,940.0 609.4,946.3 612.5,941.0 615.0,928.0 616.8,921.0 618.5,930.0 620.5,943.0 623.5,951.3 625.5,942.0 627.0,930.0 628.2,900.0 629.3,860.0 630.5,826.9 632.0,845.0 633.6,870.0 635.2,915.0 637.0,957.0 638.9,985.7 641.5,991.5 643.1,992.4 644.8,992.8 646.4,993.4 648.3,993.6 650.2,993.1 652.0,992.5 653.9,991.8 655.8,991.8 657.6,991.3 659.5,990.8 661.3,990.9 663.2,990.7 665.0,990.2 666.9,989.3 668.6,989.5 670.3,988.8 671.9,988.9 673.6,989.0 675.3,988.5 677.0,988.6 678.7,988.4 680.3,987.8 682.0,988.1 683.7,987.8 685.4,987.9 687.1,987.4 688.8,987.8 690.4,987.0 692.1,986.9 693.8,986.9 695.5,986.4 697.2,986.0 698.8,985.6 700.5,985.1 702.2,985.5 703.9,984.8 705.6,984.4 707.2,984.3 708.9,983.9 710.6,983.4 712.3,983.2 714.0,982.9 715.7,982.3 717.3,982.3 719.0,982.1 720.7,981.9 722.4,981.8 724.1,981.4 725.7,981.3 727.4,981.1 729.1,980.5 730.8,980.6 732.5,980.0 734.2,980.1 735.8,979.8 737.5,980.0 739.2,979.4 740.9,979.2 742.6,979.1 744.2,978.9 745.9,978.7 747.6,978.2 749.3,978.0 751.0,977.2 752.6,977.1 754.3,976.7 756.0,976.7 757.7,976.7 759.4,976.3 761.0,976.2 762.7,976.0 764.4,975.5 766.1,975.7 767.8,975.2 769.5,975.5 771.1,974.6 772.8,974.6 774.5,974.1 776.2,973.5 777.9,973.4 779.5,973.1 781.2,972.8 782.9,972.5 784.5,972.1 786.2,972.0 787.9,971.7 789.6,971.8 791.2,971.4 792.9,971.1 794.6,970.6 796.3,970.5 797.9,970.2 799.6,970.0 801.3,969.4 803.0,969.0 804.7,968.8 806.3,968.3 808.0,968.6 809.7,968.1 811.4,968.0 813.1,967.4 814.8,966.9 816.4,966.9 818.1,966.6 819.8,966.5 821.5,966.3 823.2,965.9 824.8,965.9 826.5,965.7 828.2,965.4 829.9,965.2 831.6,964.8 833.3,964.9 835.0,964.1 836.6,963.9 838.3,963.8 840.0,963.2 841.7,962.8 843.4,962.5 845.1,962.5 846.7,962.7 848.4,962.4 850.1,961.9 851.8,961.6 853.4,961.8 855.1,961.6 856.9,960.9 858.7,960.9 860.5,960.1 862.3,959.9 864.1,959.6 865.9,959.5 867.6,959.1 869.2,958.6 870.9,958.5 872.6,958.1 874.3,957.6 875.9,957.6 877.6,957.5 879.3,956.8 881.0,958.2 882.6,959.6 884.3,960.9 886.0,962.1 887.7,961.7 889.4,960.8 891.1,960.3 892.8,959.9 894.4,959.0 896.1,958.6 897.8,958.0 899.5,957.2 901.4,957.8 903.3,958.7 905.1,959.6 907.0,960.2 908.9,960.8 910.6,960.9 912.3,960.5 913.9,960.6 915.6,960.6 917.3,960.5 919.0,960.3 920.7,960.2 922.3,960.2 924.0,960.4 925.7,960.2 927.4,960.4 929.1,960.3 930.8,959.6 932.4,959.3 934.1,959.9 935.8,959.8 937.4,959.0 939.0,958.9 940.7,958.7 942.3,958.0 943.9,957.6 945.5,957.4 947.1,956.7 948.8,956.4 950.4,956.6 952.0,955.8 953.8,956.6 955.5,957.2 957.3,957.9 959.1,958.1 960.9,958.8 962.6,959.5 964.4,959.6 966.2,962.3 967.9,965.0 969.7,967.6 972.8,975.8 974.5,976.5 976.2,977.1 977.8,977.6 979.5,978.3 981.2,979.3 982.9,979.8 984.5,980.1 986.1,980.9 987.7,980.9 989.3,981.1 991.0,982.0 992.6,982.3 994.2,982.4 995.8,983.3 997.4,983.9 999.0,983.9 1000.7,984.8 1002.5,985.8 1004.2,986.4 1005.9,987.1 1007.6,987.4 1009.4,988.0 1011.1,988.9 1012.8,988.3 1014.6,988.0 1016.3,987.6 1018.0,987.0 1019.7,986.7 1021.5,986.4 1023.2,985.9 1024.8,985.9 1026.4,986.0 1028.1,986.0 1029.7,985.8 1031.3,986.1 1032.9,986.2 1034.5,986.2 1036.2,986.3 1037.8,986.1 1039.4,986.9 1041.1,986.3 1042.9,985.7 1044.6,986.0 1046.3,985.8 1048.0,985.9 1049.8,986.0 1051.5,985.9 1053.2,983.6 1054.8,981.7 1056.5,980.0 1058.8,975.8 1061.1,971.8 1063.3,979.7 1065.6,987.9 1067.6,990.3 1069.6,993.0 1071.6,993.7 1073.7,994.4 1075.7,995.0 1077.7,1001.3 1079.7,1007.8 1081.7,1014.1 1083.4,1015.0 1085.1,1016.4 1086.8,1017.0 1088.4,1017.9 1090.1,1018.8 1091.8,1020.2 1093.4,1021.7 1095.0,1023.3 1096.7,1025.1 1098.3,1026.9 1099.9,1028.3 1101.5,1029.0 1103.1,1029.7 1104.8,1030.2 1106.4,1031.1 1108.0,1031.4 1109.6,1031.7 1111.2,1032.2 1112.8,1032.6 1114.4,1033.4 1116.0,1033.5 1117.8,1033.5 1119.5,1033.2 1121.3,1032.7 1123.0,1032.6 1124.8,1031.9 1126.6,1032.0 1128.3,1031.6 1130.1,1031.1 1131.8,1030.7 1133.6,1030.5 1135.4,1030.5 1137.1,1029.8 1138.9,1029.7 1140.7,1029.4 1142.4,1028.9 1144.2,1028.9 1145.9,1028.2 1147.7,1027.7 1149.3,1028.2 1150.9,1028.8 1152.5,1029.4 1154.2,1030.1 1155.8,1030.3 1157.4,1031.1 1159.0,1031.8 1160.8,1031.3 1162.6,1032.0 1164.4,1031.7 1166.2,1031.9 1168.0,1032.1 1170.2,1027.1 1172.5,1022.0 1174.2,1013.5 1176.0,1005.0 1179.0,985.0 1181.3,974.3 1183.3,985.0 1185.0,1005.0 1187.4,1033.4 1189.4,1046.8 1191.4,1060.3 1193.2,1064.7 1195.0,1069.3 1196.8,1073.8 1198.6,1074.2 1200.4,1074.3 1202.2,1075.1 1204.0,1074.2 1205.7,1073.6 1207.5,1073.0 1209.3,1072.5 1211.1,1071.7 1212.9,1071.1 1215.0,1077.7 1217.0,1084.5 1219.0,1091.3 1221.0,1098.0 1222.7,1101.4 1224.3,1104.7 1226.0,1108.0 1227.7,1111.4 1230.1,1113.2 1232.4,1114.8 1234.2,1109.8 1236.4,1104.8 1237.6,1098.6 1238.5,1089.8 1239.1,1079.9 1239.6,1067.4 1240.0,1052.4 1240.3,1037.4 1240.6,1022.4 1240.9,1008.7 1241.1,998.7 1241.3,992.5 1241.5,990.0 1241.7,992.6 1241.9,999.3 1242.1,1009.9 1242.4,1024.5 1242.7,1040.3 1243.0,1056.2 1243.4,1072.2 1243.9,1085.4 1244.5,1096.0 1245.4,1105.3 1246.6,1111.9 1248.8,1117.2 1250.0,1122.5 1253.0,1124.0 1254.7,1124.1 1256.3,1124.3 1258.0,1124.7 1259.6,1124.5 1261.3,1124.9 1263.0,1125.0 1264.7,1124.8 1266.3,1124.7 1268.0,1125.4 1269.7,1125.8 1271.4,1125.8 1273.1,1125.4 1274.8,1126.0 1276.5,1125.9 1278.1,1125.9 1279.8,1126.5 1281.5,1125.5 1283.2,1126.1 1284.9,1125.1 1286.5,1125.3 1288.2,1125.4 1289.9,1125.1 1291.6,1124.7 1293.3,1124.7 1294.9,1124.5 1296.6,1124.2 1298.3,1124.0 1300.0,1124.2 1301.7,1124.5 1303.3,1124.6 1305.0,1123.9 1306.7,1123.9 1308.4,1123.9 1310.1,1123.9 1311.7,1123.5 1313.4,1123.9 1315.1,1123.5 1316.8,1123.2 1318.5,1123.1 1320.1,1123.2 1321.8,1122.9 1323.5,1122.6 1325.2,1122.9 1326.9,1123.3 1328.5,1122.9 1330.2,1122.6 1331.9,1122.6 1333.6,1122.5 1335.3,1122.0 1337.0,1122.3 1338.6,1121.9 1340.3,1121.7 1342.0,1122.2 1343.7,1121.9 1345.4,1122.2 1347.0,1121.5 1348.7,1122.1 1350.4,1122.0 1352.1,1121.6 1353.8,1121.1 1355.5,1121.8 1357.1,1121.6 1358.8,1121.9 1360.5,1121.6 1362.2,1121.4 1363.9,1120.8 1365.5,1121.4 1367.2,1120.9 1368.9,1120.8 1370.6,1120.7 1372.3,1120.8 1373.9,1120.7 1375.6,1120.7 1377.3,1120.7 1379.0,1120.9 1380.7,1120.1 1382.3,1120.4 1384.0,1120.1 1385.7,1120.5 1387.4,1120.0 1389.1,1119.7 1390.8,1120.2 1392.4,1119.6 1394.1,1119.7 1395.8,1119.5 1397.4,1119.9 1399.1,1119.3 1400.7,1120.0 1402.3,1119.4 1403.9,1119.1 1405.6,1119.5 1407.2,1118.8 1408.8,1118.5 1410.4,1119.1 1412.1,1119.3 1413.7,1119.0 1415.3,1119.5 1416.9,1118.7 1418.6,1118.8 1420.2,1119.1 1422.0,1118.5 1423.7,1118.8 1425.5,1118.4 1427.2,1118.1 1429.0,1118.0 1430.8,1115.5 1432.5,1113.0 1434.4,1111.8 1436.3,1111.4 1437.9,1111.2 1439.5,1111.6 1441.2,1111.5 1442.8,1112.2 1444.4,1112.1 1446.8,1115.7 1449.1,1119.5 1450.8,1119.6 1452.6,1118.7 1454.3,1118.3 1456.1,1118.5 1457.8,1118.2 1459.4,1117.5 1461.1,1118.4 1462.7,1118.1 1464.3,1118.4 1466.0,1118.1 1467.6,1117.5 1469.2,1117.9 1470.9,1117.9 1472.5,1117.8 1474.2,1117.7 1475.8,1117.6 1477.4,1118.1 1479.1,1117.6 1480.7,1117.5 1482.4,1118.0 1484.1,1117.2 1485.7,1116.7 1487.4,1117.0 1489.1,1116.7 1490.8,1116.8 1492.5,1116.8 1494.2,1116.4 1495.8,1116.0 1497.5,1116.0 1499.2,1115.7 1500.9,1115.4 1502.6,1115.1 1504.2,1115.0 1505.9,1115.4 1507.6,1114.8 1509.3,1115.1 1511.0,1114.9 1512.6,1114.0 1514.3,1114.2 1516.0,1114.0 1517.7,1113.9 1519.4,1113.4 1521.0,1113.6 1522.7,1113.5 1524.4,1113.3 1526.1,1112.8 1527.8,1113.0 1529.5,1112.7 1531.1,1112.6 1532.8,1111.9 1534.5,1112.1 1536.2,1112.1 1537.8,1112.0 1539.5,1111.6 1541.2,1111.5 1542.9,1111.3 1544.5,1111.6 1546.2,1111.0 1547.9,1110.9 1549.6,1110.7 1551.2,1110.5 1552.9,1110.1 1554.6,1110.7 1556.3,1110.5 1558.0,1110.7 1559.6,1110.4 1561.3,1110.1 1563.0,1109.9 1564.7,1109.9 1566.4,1109.9 1568.0,1109.0 1569.7,1109.1 1571.4,1108.3 1573.1,1108.0 1574.8,1108.1 1576.6,1107.9 1578.4,1107.7 1580.2,1107.7 1581.9,1107.8 1583.7,1107.2 1585.5,1107.4 1587.1,1109.1 1588.7,1110.3 1590.4,1112.1 1592.0,1113.1 1593.6,1114.8 1595.2,1115.9 1596.8,1117.4 1598.5,1118.4 1600.1,1119.8 1601.7,1120.8 1603.6,1120.2 1605.5,1120.0 1608.0,1115.6 1610.0,1111.2 1611.0,1105.7 1611.8,1098.0 1612.3,1089.2 1612.7,1078.2 1613.1,1065.0 1613.4,1051.8 1613.6,1038.6 1613.9,1026.5 1614.0,1017.7 1614.2,1012.2 1614.4,1010.0 1614.6,1012.3 1614.8,1018.0 1614.9,1027.1 1615.2,1039.6 1615.4,1053.3 1615.7,1067.0 1616.1,1080.7 1616.5,1092.1 1617.0,1101.2 1617.8,1109.2 1618.8,1114.9 1620.8,1119.4 1622.0,1124.0 1625.0,1124.9 1626.7,1124.6 1628.4,1124.5 1630.2,1124.3 1631.9,1123.8 1633.6,1124.2 1635.3,1124.2 1637.0,1124.0 1638.7,1124.7 1640.3,1124.5 1642.0,1125.1 1643.7,1124.8 1645.3,1125.0 1647.0,1125.7 1648.7,1125.5 1650.4,1125.9 1652.1,1125.1 1653.8,1125.2 1655.4,1125.4 1657.1,1125.2 1658.8,1124.9 1660.5,1125.3 1662.2,1124.9 1663.9,1124.8 1665.5,1125.0 1667.2,1124.6 1668.9,1124.9 1670.5,1124.8 1672.1,1124.6 1673.7,1124.9 1675.3,1124.6 1677.0,1124.8 1678.6,1124.8 1680.2,1125.0 1681.8,1125.5 1683.4,1125.5 1685.0,1125.5 1686.7,1124.9 1688.3,1124.5 1690.0,1124.0 1692.2,1122.2 1694.5,1120.8 1696.8,1122.5 1699.0,1123.8 1701.2,1123.5 1703.9,1122.2 1705.7,1123.2 1707.4,1124.1 1709.2,1124.9 1711.0,1124.8 1712.8,1125.6 1714.6,1125.6 1716.4,1125.1 1718.2,1125.4 1720.0,1125.5 1721.7,1126.0 1723.3,1125.9 1725.0,1126.2 1726.7,1126.6 1728.3,1126.5 1730.0,1126.9 1731.6,1126.5 1733.3,1127.0 1735.2,1126.1 1737.0,1125.2 1738.9,1124.3 1740.8,1123.2 1742.6,1124.4 1744.4,1124.9 1746.3,1125.6 1748.1,1126.3 1749.9,1127.0 1751.5,1127.1 1753.1,1127.0 1754.7,1126.8 1756.3,1126.7 1757.9,1126.8 1759.5,1126.4 1761.1,1126.3 1762.8,1126.2 1764.4,1126.2 1766.0,1126.2 1767.6,1125.8 1769.2,1126.5 1770.8,1126.5 1772.4,1126.1 1774.0,1126.2 1775.6,1126.5 1777.2,1126.1 1778.9,1126.4 1780.5,1126.0 1782.2,1126.0 1783.8,1126.0 1785.5,1125.5 1788.5,1120.0 1791.2,1117.4 1794.0,1121.0 1796.1,1125.5 1798.3,1123.9 1800.6,1122.4 1802.4,1124.2 1804.1,1125.8 1805.9,1127.0 1807.7,1127.0 1809.5,1126.7 1811.4,1126.9 1813.2,1126.5 1815.0,1126.2 1816.6,1126.3 1818.2,1126.2 1819.9,1126.6 1821.5,1126.6 1823.1,1126.8 1824.7,1126.9 1826.4,1127.2 1828.0,1126.9 1829.6,1127.2 1831.2,1127.3 1832.9,1127.6 1834.5,1127.8 1836.1,1127.7 1837.8,1127.3 1839.5,1127.7 1841.2,1127.5 1842.9,1127.7 1844.5,1127.4 1846.2,1127.2 1847.9,1127.5 1849.6,1127.0 1851.3,1127.0 1853.5,1124.5 1855.8,1122.0 1858.5,1117.0 1860.6,1114.4 1862.8,1119.0 1864.8,1128.0 1867.9,1133.8 1869.7,1134.0 1871.4,1134.0 1873.2,1134.7 1875.0,1135.3 1876.7,1135.2 1878.5,1135.6 1880.2,1135.2 1881.9,1135.4 1883.6,1134.6 1885.3,1134.6 1887.0,1134.5 1888.7,1134.7 1890.4,1134.6 1892.1,1134.1 1893.8,1134.5 1895.6,1134.5 1897.3,1134.7 1899.0,1134.8 1900.7,1134.7 1902.5,1135.1 1904.2,1135.3 1906.1,1136.5 1908.0,1137.6 1909.9,1139.0 1911.8,1140.6 1913.6,1140.2 1915.3,1140.7 1917.1,1140.9 1918.9,1140.6 1920.6,1140.2 1922.4,1140.6 1925.6,1132.0 1928.3,1113.0 1931.1,1103.8 1933.6,1115.0 1935.6,1140.0 1938.5,1155.0 1940.1,1156.6 1941.8,1158.1 1943.4,1159.5 1945.0,1161.0 1946.6,1160.7 1948.2,1161.1 1949.8,1161.7 1951.4,1161.2 1953.0,1161.1 1954.6,1161.5 1956.2,1161.3 1957.8,1161.3 1959.5,1161.8 1961.1,1161.5 1962.7,1161.4 1964.3,1161.4 1965.9,1161.6 1967.5,1161.8 1969.1,1161.7 1970.7,1161.2 1972.3,1162.2 1973.9,1161.9 1975.5,1162.1 1977.2,1161.9 1978.8,1162.4 1980.4,1162.2 1982.0,1162.5 1983.7,1162.5 1985.3,1162.7 1986.9,1162.5 1988.5,1162.2 1990.1,1162.6 1991.8,1162.3 1993.4,1162.2 1995.0,1162.5 1996.8,1162.3 1998.6,1162.1 2000.4,1161.6 2002.2,1161.0 2003.9,1161.1 2005.7,1160.4 2007.5,1160.0 2009.3,1160.3 2011.0,1160.5 2012.6,1161.3 2014.2,1161.7 2015.9,1162.2 2017.5,1162.7 2019.2,1163.3 2020.9,1163.1 2022.6,1162.9 2024.3,1162.9 2026.0,1163.1 2027.7,1162.9 2029.4,1162.6 2031.1,1162.6 2032.8,1162.8 2034.7,1160.3 2036.5,1158.0 2039.3,1150.0 2041.5,1146.6 2044.0,1155.0 2046.0,1165.0 2048.7,1172.3 2050.8,1172.8 2053.0,1173.3" stroke="#ff0000" stroke-width="9.2"/>
<polyline points="382.2,894.8 383.9,895.6 385.6,896.6 387.2,897.6 388.9,898.9 390.6,899.7 392.3,900.8 393.9,900.5 395.5,900.0 397.1,900.1 398.7,900.0 400.3,899.5 402.0,899.3 403.8,899.4 405.5,899.6 407.2,899.1 408.9,899.4 410.7,898.9 412.4,898.8 414.0,898.2 415.6,898.1 417.3,897.3 418.9,897.0 420.5,896.1 422.2,896.5 424.0,895.8 425.7,895.5 427.4,894.9 429.1,894.6 430.9,894.4 432.6,894.1 434.2,893.7 435.9,893.3 437.5,893.1 439.2,892.8 440.8,892.6 442.5,892.5 444.1,892.0 445.8,891.6 447.4,891.4 449.1,890.7 450.8,890.6 452.4,889.9 454.1,889.4 455.8,889.0 457.5,888.9 459.2,888.6 460.9,887.6 462.6,887.6 464.2,887.2 465.9,886.8 467.6,886.1 469.3,885.6 471.0,885.3 472.6,885.5 474.3,884.6 476.0,884.3 477.7,884.4 479.4,883.9 481.1,884.1 482.7,883.4 484.4,883.1 486.1,883.0 487.8,882.7 489.5,882.7 491.1,882.1 492.8,882.0 494.5,882.0 496.2,881.8 497.9,881.4 499.5,881.0 501.2,881.0 502.9,880.8 504.6,880.2 506.2,879.9 507.9,880.1 509.6,879.2 511.2,879.7 512.9,879.6 514.6,879.3 516.3,879.1 518.0,878.7 519.7,877.8 521.4,877.5 523.1,877.2 524.9,876.4 526.6,876.0 528.3,875.5 530.0,875.1 531.7,874.5 533.4,873.7 535.0,874.2 536.6,875.2 538.3,875.2 539.9,875.8 541.5,876.0 543.4,877.2 545.3,877.3 547.1,878.2 549.0,879.1 550.9,879.3 552.6,878.5 554.2,877.9 555.9,877.4 557.6,876.6 559.5,873.5 561.5,870.0 563.2,868.7 565.0,866.8 566.8,868.6 568.5,870.0 570.5,872.8 572.4,875.3 574.2,879.1 576.0,882.6 577.8,886.0 579.8,888.1 581.8,890.4 583.4,888.0 585.0,885.5 587.2,882.0 589.5,886.0 592.6,892.8 594.5,891.1 596.5,889.0 599.0,884.0 600.1,878.0 601.0,868.0 602.0,861.7 603.0,868.0 603.4,878.0 604.2,895.0 605.0,904.0 607.5,911.0 609.5,912.3 611.4,913.6 614.5,907.0 616.8,902.2 619.0,908.0 621.5,916.0 624.2,919.4 626.8,915.0 628.7,904.0 629.3,878.0 630.6,852.0 631.4,830.7 632.6,852.0 633.9,878.0 634.6,904.0 635.9,923.0 638.0,933.0 641.0,937.5 643.7,938.5 645.5,938.9 647.3,939.1 649.1,939.2 650.8,938.7 652.5,938.5 654.1,938.2 655.8,937.8 657.5,937.5 659.2,937.2 660.8,937.0 662.5,936.8 664.2,936.1 665.9,935.9 667.5,935.8 669.2,935.1 671.0,935.1 672.8,934.7 674.6,933.9 676.4,933.8 678.2,933.9 680.0,933.5 681.6,932.9 683.3,932.9 684.9,932.7 686.5,932.1 688.1,932.1 689.8,931.8 691.4,931.7 693.0,931.4 694.7,931.2 696.3,930.9 697.9,930.5 699.5,930.2 701.2,929.6 702.8,929.6 704.4,929.2 706.0,928.7 707.7,928.6 709.3,928.6 710.9,928.2 712.6,927.8 714.2,927.9 715.8,927.3 717.4,926.7 719.1,926.1 720.7,926.4 722.3,926.3 723.9,926.1 725.5,925.6 727.1,925.5 728.8,925.5 730.4,925.3 732.0,924.5 733.6,924.4 735.2,924.2 736.8,923.8 738.4,923.3 740.0,923.3 741.7,922.6 743.3,922.4 744.9,922.6 746.5,921.9 748.1,921.6 749.7,921.1 751.3,921.0 752.9,920.8 754.6,920.7 756.2,920.0 757.8,920.0 759.4,919.9 761.0,919.3 762.6,919.1 764.2,918.6 765.8,918.6 767.5,918.5 769.1,917.8 770.7,917.9 772.3,917.5 773.9,917.3 775.5,917.1 777.2,916.8 778.8,916.2 780.4,916.0 782.0,916.2 783.6,915.8 785.2,915.7 786.9,915.7 788.5,915.5 790.1,915.2 791.7,915.0 793.3,914.4 794.9,914.5 796.6,913.8 798.2,913.8 799.8,913.7 801.4,913.3 803.0,913.3 804.6,913.1 806.2,913.0 807.8,912.7 809.5,911.9 811.1,912.5 812.7,912.1 814.3,912.1 815.9,911.9 817.5,912.0 819.1,912.2 820.7,911.9 822.4,911.7 824.0,911.4 825.6,911.2 827.2,911.5 828.8,910.8 830.4,910.8 832.0,911.0 833.6,910.9 835.3,910.4 836.9,910.7 838.5,910.7 840.1,910.4 841.7,909.7 843.3,909.9 845.0,909.8 846.6,909.5 848.2,909.2 849.9,908.9 851.5,908.4 853.2,909.0 854.8,908.4 856.4,908.9 858.1,908.1 859.7,908.4 861.4,907.8 863.0,907.7 864.6,907.5 866.3,907.8 867.9,907.2 869.6,907.6 871.2,907.1 872.9,906.8 874.6,907.3 876.2,907.3 877.9,907.0 879.6,907.1 881.2,906.6 882.9,906.8 884.5,906.5 886.2,906.7 887.9,907.0 889.5,906.6 891.2,906.3 892.9,905.8 894.5,906.2 896.2,906.2 897.8,906.1 899.5,906.3 901.1,905.9 902.8,906.6 904.4,906.9 906.0,906.7 907.7,907.0 909.3,907.3 910.9,907.8 912.6,907.9 914.2,907.7 915.9,908.3 917.5,908.2 919.1,908.2 920.8,908.3 922.4,908.8 924.0,908.2 925.7,908.3 927.3,909.0 929.0,908.9 930.6,909.2 932.3,909.8 933.9,910.0 935.6,909.9 937.2,910.6 938.9,910.8 940.5,910.3 942.2,909.8 943.9,909.3 945.5,908.9 947.2,908.5 948.9,908.3 950.6,907.6 952.3,907.5 954.1,907.7 955.8,908.0 957.5,908.4 959.2,908.8 961.0,909.0 962.7,909.3 964.4,911.5 966.1,913.2 967.8,915.3 969.4,917.5 971.1,919.2 972.8,921.4 974.6,921.9 976.3,922.1 978.1,922.7 979.8,923.2 981.6,923.4 983.4,924.4 985.1,924.6 986.9,925.4 988.6,925.7 990.3,926.4 992.0,927.0 993.7,927.3 995.4,927.8 997.1,928.0 998.9,928.9 1000.6,928.8 1002.3,929.2 1004.0,929.7 1005.7,930.2 1007.4,930.9 1009.1,931.4 1010.8,931.5 1012.4,931.2 1014.1,931.2 1015.7,931.0 1017.4,931.0 1019.0,930.7 1020.7,931.1 1022.3,930.9 1024.0,931.1 1025.6,930.8 1027.3,930.4 1028.9,930.7 1030.5,931.5 1032.1,931.6 1033.7,931.4 1035.3,932.1 1037.0,931.9 1038.6,932.3 1040.2,932.9 1041.8,932.8 1043.4,933.1 1045.3,932.5 1047.2,932.4 1049.2,931.6 1051.1,931.1 1053.0,931.0 1054.8,929.2 1056.5,927.9 1058.3,926.1 1060.1,924.4 1062.0,927.4 1063.8,930.0 1065.7,932.7 1067.6,935.5 1069.2,936.7 1070.8,937.9 1072.5,939.1 1074.1,940.3 1075.7,941.5 1077.4,943.4 1079.0,945.3 1080.7,947.4 1082.4,949.2 1084.0,951.2 1085.7,953.2 1087.4,953.5 1089.2,954.0 1090.9,954.4 1092.6,954.9 1094.3,955.3 1096.1,956.1 1097.8,956.7 1099.5,957.5 1101.2,958.6 1102.8,959.7 1104.5,960.7 1106.2,961.6 1107.9,962.7 1109.7,963.4 1111.4,963.9 1113.2,963.7 1114.9,963.9 1116.7,964.1 1118.4,964.4 1120.2,964.9 1121.9,964.4 1123.5,964.3 1125.2,964.7 1126.9,964.4 1128.6,963.6 1130.2,963.7 1131.9,963.8 1133.6,963.5 1135.4,963.0 1137.2,962.7 1139.0,962.9 1140.8,962.2 1142.6,962.3 1144.4,962.2 1146.1,962.0 1147.8,962.5 1149.4,962.6 1151.1,963.5 1152.8,964.5 1154.4,965.7 1156.1,966.7 1157.8,967.6 1159.5,968.2 1161.2,968.1 1162.8,968.7 1164.5,968.9 1166.1,968.0 1167.7,966.8 1169.4,965.5 1171.0,964.4 1172.6,963.5 1174.8,958.6 1177.0,954.0 1180.0,946.0 1182.3,941.7 1184.6,947.0 1186.7,958.0 1189.4,981.0 1191.8,986.9 1194.1,993.1 1195.8,994.4 1197.4,995.8 1199.1,997.3 1200.8,998.5 1202.5,998.0 1204.2,997.2 1205.8,996.7 1207.5,995.8 1209.9,995.4 1212.3,994.5 1214.7,1001.3 1217.0,1007.9 1218.7,1010.7 1220.3,1013.5 1222.0,1016.0 1223.7,1018.7 1225.7,1022.1 1227.7,1025.4 1229.8,1025.8 1231.8,1026.0 1234.4,1021.6 1236.6,1017.1 1237.7,1011.6 1238.6,1003.8 1239.2,994.9 1239.6,983.8 1240.0,970.5 1240.4,957.2 1240.6,943.9 1240.9,931.6 1241.1,922.8 1241.3,917.2 1241.5,915.0 1241.7,917.3 1241.9,923.0 1242.1,932.1 1242.4,944.6 1242.6,958.3 1243.0,972.0 1243.4,985.7 1243.8,997.1 1244.4,1006.2 1245.3,1014.2 1246.4,1019.9 1248.6,1024.4 1250.5,1029.0 1253.5,1030.5 1255.5,1030.4 1257.4,1031.1 1259.3,1031.0 1261.3,1031.4 1263.0,1031.4 1264.7,1031.2 1266.3,1030.8 1268.0,1030.8 1269.7,1030.8 1271.4,1030.6 1273.1,1030.7 1274.8,1030.7 1276.4,1031.0 1278.1,1031.2 1279.8,1031.1 1281.5,1030.7 1283.2,1030.8 1284.8,1030.9 1286.5,1030.4 1288.2,1030.1 1289.9,1030.1 1291.6,1030.0 1293.2,1030.1 1294.9,1029.7 1296.6,1029.6 1298.3,1029.2 1300.0,1029.7 1301.7,1029.1 1303.3,1028.6 1305.0,1028.9 1306.7,1028.5 1308.4,1028.5 1310.1,1028.4 1311.7,1028.0 1313.4,1028.1 1315.1,1028.1 1316.8,1027.8 1318.5,1027.7 1320.1,1027.7 1321.8,1027.6 1323.5,1027.3 1325.2,1027.0 1326.9,1027.2 1328.5,1027.5 1330.2,1026.8 1331.9,1026.7 1333.6,1026.3 1335.3,1026.7 1337.0,1026.9 1338.6,1026.8 1340.3,1026.4 1342.0,1026.0 1343.7,1026.6 1345.4,1025.6 1347.0,1025.5 1348.7,1025.6 1350.4,1025.6 1352.1,1025.3 1353.8,1025.2 1355.5,1024.9 1357.1,1025.1 1358.8,1024.9 1360.5,1024.5 1362.2,1025.0 1363.9,1024.9 1365.5,1024.5 1367.2,1024.4 1368.9,1024.0 1370.6,1024.1 1372.3,1023.4 1373.9,1023.1 1375.6,1023.0 1377.3,1023.0 1379.0,1023.3 1380.7,1023.0 1382.3,1022.5 1384.0,1022.4 1385.7,1022.5 1387.4,1022.0 1389.1,1022.0 1390.8,1021.8 1392.4,1022.3 1394.1,1021.8 1395.8,1021.3 1397.5,1020.9 1399.2,1021.3 1400.9,1021.2 1402.6,1020.7 1404.3,1021.0 1406.0,1021.2 1407.7,1021.5 1409.4,1021.3 1411.0,1021.8 1412.7,1022.2 1414.3,1022.2 1416.0,1023.0 1417.6,1023.6 1419.3,1023.7 1420.9,1024.0 1422.6,1024.5 1424.2,1024.7 1425.9,1024.5 1427.6,1023.8 1429.3,1023.2 1431.0,1023.0 1432.8,1017.4 1434.5,1012.0 1436.2,1006.5 1438.0,1001.0 1441.0,997.5 1443.5,1002.0 1445.5,1012.0 1447.3,1023.0 1448.9,1023.7 1450.5,1024.7 1452.2,1025.6 1453.8,1026.7 1455.5,1026.1 1457.2,1026.0 1458.8,1026.1 1460.5,1025.9 1462.2,1025.7 1463.9,1025.9 1465.6,1025.0 1467.2,1025.1 1468.9,1024.8 1470.6,1024.7 1472.3,1024.1 1474.0,1024.5 1475.7,1024.2 1477.3,1024.0 1479.0,1023.9 1480.7,1023.4 1482.4,1023.3 1484.1,1022.8 1485.7,1022.8 1487.4,1022.3 1489.1,1021.9 1490.8,1022.0 1492.5,1022.3 1494.2,1021.5 1495.8,1021.7 1497.5,1021.1 1499.2,1020.9 1500.9,1021.1 1502.6,1021.0 1504.2,1020.9 1505.9,1020.3 1507.6,1020.0 1509.3,1020.3 1511.0,1019.9 1512.6,1019.5 1514.3,1019.2 1516.0,1019.0 1517.7,1018.6 1519.4,1018.5 1521.0,1018.4 1522.7,1018.3 1524.4,1017.7 1526.1,1017.9 1527.8,1018.0 1529.5,1017.7 1531.1,1017.3 1532.8,1017.1 1534.5,1017.3 1536.2,1017.0 1537.8,1017.0 1539.5,1017.0 1541.2,1016.7 1542.9,1016.8 1544.5,1016.3 1546.2,1016.1 1547.9,1016.0 1549.6,1016.0 1551.2,1015.3 1552.9,1015.5 1554.6,1015.8 1556.3,1015.2 1558.0,1015.1 1559.6,1014.9 1561.3,1014.6 1563.1,1014.5 1564.9,1013.9 1566.7,1013.2 1568.5,1012.7 1570.3,1012.0 1572.1,1011.3 1573.8,1010.6 1575.6,1010.1 1577.3,1009.6 1579.1,1009.1 1580.8,1008.6 1582.7,1009.7 1584.5,1010.5 1586.3,1011.5 1588.2,1012.6 1590.2,1018.0 1592.3,1023.4 1594.1,1027.8 1595.8,1032.3 1597.6,1036.8 1599.4,1039.0 1601.2,1041.3 1603.0,1043.5 1604.7,1037.7 1606.5,1032.0 1608.2,1024.8 1609.4,1014.8 1610.2,1003.3 1610.9,989.0 1611.5,971.8 1612.0,954.5 1612.4,937.3 1612.7,921.5 1613.0,910.0 1613.3,902.9 1613.6,900.0 1613.9,903.0 1614.2,910.6 1614.5,922.8 1614.8,939.5 1615.2,957.8 1615.7,976.0 1616.3,994.2 1617.0,1009.4 1617.8,1021.6 1619.0,1032.2 1620.7,1039.8 1623.5,1052.0 1625.9,1054.3 1628.2,1053.7 1630.5,1053.5 1632.5,1052.6 1634.6,1051.6 1636.5,1053.0 1638.5,1054.0 1640.2,1054.8 1642.0,1055.4 1643.7,1055.2 1645.4,1054.6 1647.0,1054.7 1648.7,1054.8 1650.4,1054.5 1652.1,1054.8 1653.8,1055.1 1655.5,1054.6 1657.2,1054.6 1658.8,1054.8 1660.5,1054.4 1662.2,1054.3 1663.9,1054.1 1665.6,1054.9 1667.2,1054.2 1668.9,1054.8 1670.6,1054.5 1672.3,1054.6 1674.0,1054.9 1675.7,1055.2 1677.4,1055.4 1679.0,1055.6 1680.7,1055.8 1682.4,1055.6 1684.1,1054.8 1685.7,1054.4 1687.3,1053.7 1689.0,1053.0 1690.8,1050.5 1692.7,1048.1 1694.5,1045.5 1696.1,1046.1 1697.7,1047.0 1699.3,1047.5 1700.9,1048.3 1702.5,1048.9 1704.2,1051.0 1705.8,1052.8 1707.4,1054.8 1709.1,1056.6 1710.7,1056.8 1712.4,1057.1 1714.0,1057.0 1715.6,1057.2 1717.3,1056.9 1718.9,1057.3 1720.5,1057.2 1722.1,1057.6 1723.8,1057.3 1725.4,1057.7 1727.0,1058.0 1728.7,1057.7 1730.3,1058.2 1732.2,1056.6 1734.1,1055.1 1736.0,1054.0 1737.7,1051.7 1739.4,1049.8 1741.1,1047.9 1743.0,1051.3 1745.0,1054.6 1746.9,1058.2 1748.5,1058.1 1750.2,1058.4 1751.8,1058.0 1753.5,1058.1 1755.1,1058.1 1756.8,1058.0 1758.4,1057.4 1760.1,1057.7 1761.7,1057.7 1763.4,1057.2 1765.0,1057.4 1766.7,1057.6 1768.5,1058.4 1770.2,1058.8 1771.9,1059.6 1773.6,1060.1 1775.4,1060.6 1777.1,1061.2 1778.9,1060.1 1780.8,1059.9 1782.7,1059.5 1784.5,1059.0 1786.2,1052.5 1788.0,1046.0 1789.8,1043.3 1791.5,1040.8 1793.8,1045.3 1796.0,1050.0 1798.3,1050.9 1800.6,1051.3 1802.4,1055.1 1804.1,1058.9 1805.9,1062.7 1807.6,1062.7 1809.3,1062.7 1810.9,1063.4 1812.6,1063.6 1814.3,1063.4 1816.0,1063.2 1817.6,1063.4 1819.3,1064.0 1821.0,1063.4 1822.7,1063.6 1824.4,1063.9 1826.0,1063.4 1827.7,1063.8 1829.4,1063.5 1831.1,1063.4 1832.7,1063.9 1834.4,1064.3 1836.1,1064.2 1837.8,1063.6 1839.5,1063.8 1841.2,1063.9 1842.9,1064.3 1844.5,1064.4 1846.2,1063.8 1847.9,1063.9 1849.6,1063.8 1851.3,1063.4 1853.2,1062.2 1855.0,1060.5 1857.3,1059.2 1859.6,1057.8 1861.4,1061.1 1863.1,1064.1 1864.9,1067.2 1866.8,1068.2 1868.7,1069.2 1870.5,1069.9 1872.4,1071.0 1874.1,1070.7 1875.7,1071.0 1877.4,1070.9 1879.1,1071.6 1880.8,1071.6 1882.4,1071.0 1884.1,1071.5 1885.8,1071.5 1887.4,1071.3 1889.1,1072.1 1890.9,1071.6 1892.6,1071.6 1894.4,1071.5 1896.2,1071.5 1897.9,1071.8 1899.7,1071.5 1901.5,1072.0 1903.2,1073.2 1905.0,1074.0 1906.8,1074.5 1908.5,1075.4 1910.3,1076.3 1912.1,1076.7 1913.9,1076.5 1915.7,1077.1 1917.5,1077.2 1919.3,1077.8 1921.0,1075.2 1922.8,1072.5 1924.5,1070.0 1926.2,1063.5 1927.8,1057.0 1930.7,1050.9 1933.4,1060.0 1935.6,1076.0 1938.5,1086.5 1940.1,1087.7 1941.8,1089.1 1943.4,1090.1 1945.0,1091.4 1946.6,1091.4 1948.2,1091.4 1949.8,1091.4 1951.4,1091.5 1953.0,1092.1 1954.6,1091.4 1956.2,1091.9 1957.8,1091.7 1959.5,1091.9 1961.1,1092.2 1962.7,1092.4 1964.3,1092.5 1965.9,1092.7 1967.5,1092.6 1969.1,1092.5 1970.7,1092.9 1972.3,1092.2 1973.9,1092.9 1975.5,1092.6 1977.2,1092.9 1978.8,1092.9 1980.4,1092.4 1982.0,1092.6 1983.7,1093.1 1985.3,1092.8 1986.9,1093.0 1988.5,1093.0 1990.1,1093.2 1991.8,1093.0 1993.4,1093.4 1995.0,1092.9 1996.8,1092.8 1998.6,1092.7 2000.4,1092.3 2002.2,1091.9 2003.9,1091.3 2005.7,1090.9 2007.5,1090.5 2009.3,1090.2 2010.9,1090.4 2012.6,1091.2 2014.2,1091.5 2015.8,1091.6 2017.4,1092.4 2019.1,1092.3 2020.7,1092.9 2022.4,1093.1 2024.2,1093.3 2025.9,1093.7 2027.6,1093.9 2029.3,1094.4 2031.1,1094.7 2032.8,1095.2 2035.0,1093.2 2037.3,1091.0 2039.4,1088.1 2041.5,1085.1 2043.5,1090.5 2045.6,1096.0 2048.7,1102.0 2050.8,1102.5 2053.0,1103.0" stroke="#00ff00" stroke-width="9.2"/>
<polyline points="381.5,775.6 383.2,777.2 385.0,778.7 386.7,780.2 388.4,781.3 390.1,783.0 391.9,784.3 393.6,785.7 395.4,785.3 397.2,785.0 399.0,784.1 400.8,784.0 402.6,783.3 404.4,783.0 406.1,782.6 407.9,782.3 409.6,782.1 411.4,781.3 413.1,781.6 414.8,781.2 416.6,780.8 418.3,780.5 420.1,780.3 421.8,779.7 423.5,779.4 425.2,778.8 427.0,778.2 428.7,778.1 430.4,777.6 432.1,777.0 433.8,777.0 435.5,776.6 437.3,776.1 439.0,775.9 440.7,775.6 442.3,775.5 443.9,774.7 445.5,774.1 447.2,773.1 448.8,773.1 450.4,772.4 452.0,772.3 453.6,771.4 455.2,771.2 456.8,770.6 458.4,770.3 460.1,769.7 461.7,768.8 463.3,768.7 464.9,768.2 466.6,768.4 468.2,768.3 469.9,768.3 471.6,768.9 473.2,767.8 474.9,767.6 476.5,766.3 478.1,766.0 479.8,765.1 481.4,764.7 483.1,763.8 484.7,763.2 486.3,762.1 488.0,761.4 489.6,761.2 491.2,760.4 492.9,759.4 494.5,758.8 496.2,758.3 497.9,757.5 499.5,757.5 501.2,757.0 502.9,756.6 504.6,755.8 506.2,755.1 507.9,755.0 509.6,754.5 511.2,753.8 512.9,753.1 514.6,752.8 516.3,752.6 518.0,751.9 519.6,751.5 521.3,750.8 523.1,749.8 524.9,748.4 526.7,747.1 528.5,746.0 530.3,744.8 532.1,743.4 534.0,743.9 535.9,744.1 537.7,744.5 539.6,745.0 541.5,745.4 543.1,746.0 544.7,746.4 546.4,747.2 548.0,747.7 549.6,748.1 551.2,747.0 552.8,746.0 554.4,744.6 556.0,743.4 557.6,742.0 559.8,738.3 562.0,734.5 565.0,731.3 566.8,733.1 568.5,734.5 570.5,736.9 572.4,739.3 574.2,743.9 576.0,748.4 577.8,752.8 579.8,757.3 581.8,761.5 584.5,757.0 586.0,748.0 587.0,738.0 587.9,731.9 588.8,738.0 589.4,746.0 590.5,755.0 592.5,760.5 594.6,761.5 596.7,758.0 598.4,746.0 599.3,735.0 600.0,724.9 600.7,741.0 602.4,767.6 603.8,781.0 606.0,790.0 608.5,795.5 611.4,797.1 614.0,791.0 615.6,775.0 616.8,756.8 618.0,770.0 619.5,782.0 622.2,789.8 624.5,785.0 627.0,765.0 628.9,741.0 629.4,722.0 630.0,700.0 630.7,685.8 631.2,722.0 631.6,741.0 632.5,781.0 634.3,808.0 636.3,821.0 637.9,823.9 639.5,826.5 641.6,826.9 643.7,827.6 645.4,827.5 647.0,827.3 648.7,826.8 650.3,826.8 652.0,826.4 653.6,826.3 655.2,826.0 656.9,826.1 658.6,826.3 660.2,826.3 661.9,825.6 663.5,825.5 665.1,825.5 666.8,824.9 668.5,825.0 670.1,825.1 671.8,825.5 673.4,825.2 675.0,825.3 676.7,824.7 678.4,824.9 680.0,824.6 681.6,825.1 683.2,824.5 684.8,824.2 686.4,824.1 688.0,823.7 689.6,824.0 691.2,823.5 692.8,823.1 694.4,823.2 696.0,823.6 697.6,822.9 699.2,823.1 700.8,822.7 702.4,822.8 704.0,822.4 705.6,822.1 707.2,821.6 708.8,822.0 710.4,821.4 712.0,821.4 713.6,821.0 715.2,820.6 716.8,820.8 718.4,820.8 720.0,820.5 721.6,820.6 723.2,820.2 724.8,820.2 726.4,820.1 728.0,819.9 729.6,819.6 731.2,819.7 732.8,819.0 734.4,819.3 736.0,819.2 737.6,818.9 739.2,818.6 740.8,818.7 742.4,818.7 744.0,818.1 745.6,818.0 747.2,818.2 748.8,817.8 750.4,817.6 752.0,817.6 753.6,817.2 755.2,817.3 756.8,817.0 758.4,816.9 760.0,816.8 761.7,816.4 763.3,816.7 765.0,816.6 766.6,816.2 768.3,816.6 769.9,815.9 771.6,816.0 773.2,816.4 774.9,815.7 776.5,815.9 778.2,815.4 779.8,814.9 781.5,814.8 783.1,814.7 784.8,814.2 786.4,814.6 788.1,814.3 789.7,814.3 791.4,814.3 793.0,814.3 794.7,814.1 796.3,813.8 798.0,813.9 799.6,813.6 801.3,813.5 802.9,813.3 804.5,813.2 806.1,812.8 807.8,812.8 809.4,812.7 811.0,813.1 812.6,812.8 814.2,812.2 815.8,812.3 817.4,812.6 819.0,812.6 820.6,812.3 822.3,811.6 823.9,812.2 825.5,811.6 827.1,812.2 828.7,811.9 830.3,812.0 831.9,811.7 833.5,811.6 835.2,811.3 836.8,811.8 838.4,811.6 840.0,811.3 841.6,811.5 843.2,811.3 844.8,811.1 846.4,810.4 848.0,810.0 849.6,810.4 851.2,810.0 852.8,810.3 854.4,809.9 856.0,809.4 857.6,809.1 859.3,809.0 860.9,808.9 862.5,808.7 864.1,808.4 865.7,808.2 867.3,808.2 868.9,808.1 870.5,807.9 872.1,808.0 873.7,807.5 875.3,807.5 877.1,807.8 878.9,808.1 880.6,808.4 882.4,808.9 884.2,809.9 886.0,810.3 887.7,809.5 889.5,809.1 891.2,809.0 893.0,808.2 894.7,808.3 896.5,807.6 898.2,807.2 900.0,807.9 901.8,808.9 903.5,809.3 905.3,810.6 907.1,811.1 908.9,812.0 910.5,811.5 912.1,812.1 913.8,812.1 915.4,811.9 917.0,811.9 918.6,812.0 920.3,811.7 921.9,812.3 923.5,811.9 925.1,812.0 926.8,811.8 928.4,811.9 930.0,812.5 931.7,812.4 933.4,812.5 935.1,812.5 936.9,812.7 938.6,812.8 940.3,813.3 942.0,812.9 943.7,813.0 945.5,813.0 947.2,813.2 948.9,813.2 950.6,813.5 952.3,813.8 954.0,814.4 955.7,815.4 957.3,815.7 959.0,816.5 960.7,817.5 962.8,819.4 965.0,821.5 967.1,823.8 968.8,824.6 970.5,825.8 972.1,827.0 973.8,827.8 975.5,828.6 977.1,829.3 978.8,829.9 980.5,830.4 982.2,831.0 983.9,831.1 985.5,831.6 987.2,832.5 989.0,832.8 990.8,832.9 992.6,833.8 994.4,833.8 996.2,834.3 998.0,835.2 999.8,836.1 1001.6,836.6 1003.4,837.4 1005.1,838.0 1006.9,839.2 1008.7,839.9 1010.4,839.5 1012.2,839.4 1013.9,839.5 1015.6,839.7 1017.3,838.9 1019.1,839.0 1020.8,838.6 1022.4,838.4 1024.0,838.5 1025.7,838.2 1027.3,837.4 1028.9,837.2 1030.6,837.8 1032.4,838.3 1034.1,838.2 1035.8,838.8 1037.5,838.8 1039.3,839.1 1041.0,839.9 1042.8,839.4 1044.6,839.3 1046.4,839.0 1048.2,839.4 1050.0,839.2 1051.8,838.6 1053.7,836.7 1055.6,835.0 1057.5,833.0 1060.5,827.6 1063.0,833.0 1065.6,840.7 1067.2,841.4 1068.8,842.3 1070.5,843.0 1072.1,843.9 1073.7,844.7 1075.7,849.5 1077.7,854.2 1079.7,858.8 1081.4,859.4 1083.2,860.4 1084.9,860.9 1086.6,861.4 1088.3,862.2 1090.1,863.1 1091.8,863.9 1093.8,866.3 1095.8,868.7 1097.8,870.9 1099.6,871.8 1101.4,872.7 1103.1,873.3 1104.9,874.1 1106.7,874.8 1108.4,874.8 1110.1,875.2 1111.7,875.8 1113.4,876.1 1115.1,875.7 1116.8,875.7 1118.5,875.3 1120.2,875.5 1121.8,875.5 1123.5,875.2 1125.2,874.8 1126.9,874.1 1128.5,874.4 1130.1,874.5 1131.8,875.0 1133.4,874.6 1135.0,874.8 1136.7,874.2 1138.5,874.0 1140.2,873.4 1141.9,872.5 1143.6,872.2 1145.4,871.5 1147.1,870.8 1148.8,871.5 1150.6,872.0 1152.3,872.9 1154.0,873.2 1155.7,873.6 1157.5,874.2 1159.2,874.8 1160.8,873.9 1162.4,872.7 1164.0,871.6 1165.6,870.6 1167.2,869.4 1169.6,865.8 1172.0,862.0 1173.8,856.0 1175.5,850.0 1178.0,838.0 1180.0,831.0 1182.0,840.0 1184.0,858.0 1186.0,875.0 1188.0,884.3 1190.1,893.6 1191.7,895.3 1193.3,896.7 1195.0,898.5 1196.6,900.2 1198.2,901.7 1199.8,900.9 1201.4,900.6 1203.0,899.8 1204.6,899.2 1206.2,898.3 1208.0,898.1 1209.8,897.9 1211.6,897.6 1213.6,904.3 1215.6,911.1 1217.4,915.4 1219.2,920.0 1221.0,924.5 1222.7,927.8 1224.3,931.2 1226.0,934.7 1227.7,938.0 1229.8,939.6 1231.8,940.7 1234.1,932.1 1236.3,923.5 1237.4,912.8 1238.3,897.7 1238.9,880.5 1239.3,859.0 1239.8,833.2 1240.1,807.5 1240.3,781.7 1240.6,758.0 1240.8,740.8 1241.0,730.1 1241.2,725.8 1241.4,730.2 1241.6,741.2 1241.8,758.9 1242.1,783.2 1242.3,809.7 1242.7,836.1 1243.1,862.6 1243.5,884.7 1244.1,902.4 1245.0,917.8 1246.1,928.8 1248.3,937.7 1250.5,946.5 1253.0,949.0 1254.8,949.8 1256.7,949.5 1258.5,949.8 1260.3,950.4 1262.2,951.1 1264.0,951.4 1265.6,950.9 1267.2,950.8 1268.8,950.6 1270.5,950.5 1272.1,950.6 1273.7,950.1 1275.3,950.4 1276.9,949.7 1278.5,949.7 1280.1,950.0 1281.7,949.3 1283.4,949.4 1285.0,949.3 1286.6,948.8 1288.2,948.7 1289.9,948.7 1291.6,948.2 1293.2,948.1 1294.9,947.5 1296.6,947.4 1298.3,947.6 1300.0,947.7 1301.7,947.0 1303.3,946.8 1305.0,947.1 1306.7,946.6 1308.4,946.5 1310.1,946.2 1311.7,946.5 1313.4,946.1 1315.1,946.1 1316.8,945.4 1318.5,945.8 1320.1,945.3 1321.8,945.5 1323.5,945.2 1325.2,945.3 1326.9,944.8 1328.5,944.8 1330.2,944.7 1331.9,944.8 1333.6,944.6 1335.3,944.5 1337.0,944.0 1338.6,944.0 1340.3,943.5 1342.0,943.4 1343.7,943.2 1345.4,943.0 1347.0,942.9 1348.7,942.8 1350.4,942.4 1352.1,942.9 1353.8,942.0 1355.5,942.7 1357.1,942.1 1358.8,942.3 1360.5,941.8 1362.2,941.7 1363.9,941.7 1365.5,941.6 1367.2,941.1 1368.9,941.3 1370.6,941.3 1372.3,940.6 1373.9,940.8 1375.6,940.7 1377.3,940.9 1379.0,940.4 1380.7,940.2 1382.3,940.0 1384.0,940.3 1385.7,939.9 1387.4,939.7 1389.1,939.9 1390.8,939.3 1392.4,939.0 1394.1,938.7 1395.8,939.3 1397.5,938.7 1399.2,939.2 1400.9,938.8 1402.6,939.2 1404.3,939.5 1406.0,938.6 1407.7,938.7 1409.4,938.7 1411.0,939.4 1412.7,939.6 1414.3,940.2 1416.0,940.9 1417.6,940.8 1419.3,941.4 1420.9,941.7 1422.6,941.8 1424.2,942.7 1425.9,941.8 1427.6,941.7 1429.3,941.5 1431.0,941.0 1433.0,935.5 1435.0,930.0 1436.8,925.6 1438.5,921.0 1441.0,917.8 1443.5,922.0 1445.5,931.0 1447.5,941.0 1449.6,942.1 1451.7,942.9 1453.8,944.0 1455.5,943.7 1457.2,943.4 1458.8,942.8 1460.5,942.8 1462.2,941.9 1463.8,942.0 1465.5,941.6 1467.2,941.3 1468.8,941.1 1470.4,941.2 1472.1,940.8 1473.7,940.6 1475.3,940.5 1476.9,939.7 1478.5,939.9 1480.2,939.9 1481.8,939.5 1483.4,939.3 1485.0,938.9 1486.6,938.9 1488.2,938.4 1489.9,938.6 1491.5,938.5 1493.1,937.9 1494.7,938.0 1496.3,937.1 1497.9,936.8 1499.5,937.0 1501.1,936.6 1502.8,936.4 1504.4,936.3 1506.0,936.5 1507.6,936.0 1509.3,935.4 1510.9,935.4 1512.6,935.4 1514.3,935.2 1516.0,935.3 1517.7,934.5 1519.3,934.3 1521.0,934.2 1522.7,934.2 1524.3,933.8 1526.0,933.8 1527.7,933.3 1529.4,933.3 1531.1,933.1 1532.8,932.9 1534.4,932.4 1536.1,932.1 1537.8,931.8 1539.5,931.3 1541.2,931.4 1542.9,931.1 1544.5,930.9 1546.2,931.2 1547.9,930.6 1549.5,930.8 1551.1,930.3 1552.7,929.8 1554.3,929.9 1556.0,929.7 1557.6,930.1 1559.2,929.4 1560.8,929.4 1562.4,929.2 1564.0,929.2 1565.9,928.7 1567.8,927.6 1569.6,927.2 1571.5,925.9 1573.4,925.2 1575.3,925.5 1577.2,925.2 1579.1,925.1 1581.0,925.3 1582.9,924.9 1584.7,927.1 1586.4,929.7 1588.2,931.9 1590.0,936.1 1591.8,940.0 1593.6,944.0 1595.4,947.7 1597.2,951.2 1599.0,954.8 1601.7,958.2 1603.3,954.3 1605.0,950.3 1607.9,942.3 1609.4,932.4 1610.5,918.6 1611.3,902.7 1611.9,882.9 1612.4,859.1 1612.8,835.3 1613.2,811.5 1613.5,789.7 1613.8,773.9 1614.0,764.0 1614.3,760.0 1614.6,764.2 1614.8,774.6 1615.1,791.2 1615.4,814.1 1615.8,839.1 1616.2,864.1 1616.7,889.1 1617.3,909.9 1618.1,926.6 1619.2,941.1 1620.7,951.5 1623.2,968.2 1626.0,968.6 1628.0,968.0 1630.0,968.2 1631.9,968.0 1633.9,967.6 1635.5,967.7 1637.1,968.3 1638.8,969.2 1640.4,969.6 1642.0,970.3 1643.7,969.8 1645.4,969.6 1647.0,969.7 1648.7,969.6 1650.4,969.5 1652.1,969.6 1653.8,970.1 1655.5,969.5 1657.2,969.6 1658.8,969.7 1660.5,969.6 1662.2,969.6 1663.9,970.3 1665.6,970.1 1667.2,970.7 1668.9,971.3 1670.6,971.5 1672.3,971.5 1674.0,971.9 1675.7,972.2 1677.4,972.3 1679.0,972.3 1680.7,973.1 1682.4,972.9 1684.1,972.0 1685.9,971.2 1687.6,970.0 1689.3,969.4 1691.0,968.3 1692.8,967.2 1694.5,966.2 1696.4,967.1 1698.3,967.9 1700.1,969.1 1702.0,970.1 1703.9,970.9 1705.6,972.0 1707.4,973.2 1709.1,974.2 1710.7,974.7 1712.4,974.8 1714.0,974.4 1715.6,974.7 1717.3,974.6 1718.9,975.0 1720.5,975.4 1722.1,975.7 1723.8,975.6 1725.4,976.4 1727.0,976.6 1728.7,976.7 1730.3,976.5 1732.1,975.5 1733.9,974.2 1735.7,972.9 1737.5,971.5 1739.3,970.4 1741.2,972.3 1743.1,974.3 1745.0,976.4 1746.9,978.7 1748.6,978.2 1750.3,977.7 1752.0,978.3 1753.7,977.8 1755.4,977.7 1757.1,977.2 1758.8,977.5 1760.5,977.2 1762.2,977.9 1763.9,978.3 1765.5,978.9 1767.2,979.1 1768.9,979.7 1770.6,980.2 1772.2,980.2 1773.9,980.6 1775.6,981.0 1777.5,981.6 1779.4,981.4 1781.3,981.7 1783.2,981.8 1785.1,978.4 1787.0,975.0 1789.1,972.2 1791.2,969.7 1793.1,972.3 1794.9,975.1 1796.8,978.0 1799.0,978.2 1801.3,979.5 1804.4,986.3 1806.2,986.0 1808.0,985.5 1809.8,985.3 1811.6,984.8 1813.4,984.8 1815.1,985.0 1816.8,985.4 1818.5,985.9 1820.2,986.4 1821.8,986.5 1823.5,986.9 1825.2,987.2 1826.9,987.7 1828.6,987.8 1830.4,988.1 1832.1,988.5 1833.9,988.6 1835.7,989.3 1837.4,989.9 1839.2,990.1 1841.0,989.6 1842.7,989.0 1844.5,988.5 1846.2,988.5 1848.0,987.5 1849.7,987.1 1852.1,985.6 1854.5,984.0 1856.3,982.4 1858.1,981.0 1861.0,986.0 1863.4,993.1 1865.3,994.0 1867.2,994.9 1869.0,995.7 1870.9,996.9 1872.6,996.4 1874.3,996.8 1876.0,996.8 1877.7,997.0 1879.3,997.1 1881.0,997.4 1882.7,997.6 1884.4,997.5 1886.1,997.7 1888.1,997.2 1890.1,996.2 1892.1,996.1 1894.1,997.1 1896.2,998.6 1898.2,999.9 1900.0,999.7 1901.8,1000.0 1903.6,1000.0 1905.4,999.9 1907.2,999.9 1909.5,1002.5 1911.8,1005.2 1913.7,1004.6 1915.5,1003.6 1917.4,1003.0 1919.3,1002.2 1921.4,998.0 1923.5,994.0 1925.2,986.9 1927.0,980.0 1929.6,973.1 1932.0,982.0 1934.0,1000.0 1936.7,1014.0 1938.5,1015.6 1940.2,1017.1 1942.0,1018.8 1943.7,1018.9 1945.4,1019.1 1947.0,1019.0 1948.7,1019.0 1950.4,1019.6 1952.1,1020.2 1953.7,1020.5 1955.4,1020.3 1957.1,1020.6 1958.8,1020.5 1960.5,1020.6 1962.1,1020.6 1963.8,1021.1 1965.5,1021.1 1967.2,1020.9 1968.9,1021.4 1970.6,1021.1 1972.2,1021.0 1973.9,1021.3 1975.6,1021.3 1977.3,1021.3 1979.0,1021.1 1980.7,1021.3 1982.4,1021.1 1984.0,1021.5 1985.7,1021.8 1987.4,1021.6 1989.0,1021.3 1990.7,1021.2 1992.3,1021.1 1993.9,1020.4 1995.6,1020.2 1997.2,1019.6 1998.8,1020.1 2000.4,1019.6 2002.1,1019.0 2003.7,1019.3 2005.3,1018.7 2007.0,1018.2 2008.6,1018.8 2010.3,1019.6 2012.1,1020.5 2013.8,1021.1 2015.5,1021.7 2017.2,1022.3 2019.0,1023.3 2020.7,1024.1 2022.7,1023.1 2024.7,1022.8 2026.7,1021.9 2028.7,1022.6 2030.8,1023.2 2032.8,1023.4 2034.7,1021.5 2036.5,1019.5 2039.6,1015.0 2042.0,1021.0 2044.5,1027.0 2046.6,1029.6 2048.7,1032.4 2050.8,1032.8 2053.0,1033.4" stroke="#0000ff" stroke-width="9.2"/>
<polyline points="382.2,802.5 383.9,804.2 385.7,805.4 387.4,806.9 389.2,808.4 390.9,809.9 392.6,809.8 394.3,809.7 396.0,809.5 397.6,809.6 399.3,809.3 401.0,809.2 402.7,809.6 404.4,809.2 406.1,808.6 407.8,807.9 409.4,807.1 411.1,806.3 412.7,806.0 414.3,806.1 415.9,806.5 417.5,806.3 419.1,806.4 420.8,806.3 422.4,806.4 424.0,806.7 425.6,805.8 427.2,805.9 428.9,805.5 430.6,805.0 432.3,805.1 433.9,804.6 435.6,803.9 437.3,803.6 439.0,803.6 440.7,803.2 442.4,802.6 444.1,802.4 445.7,802.6 447.4,802.0 449.1,801.6 450.8,801.6 452.5,800.8 454.1,800.6 455.8,800.5 457.5,800.8 459.2,800.5 460.9,800.1 462.6,799.7 464.2,799.4 465.9,798.6 467.6,798.5 469.3,798.2 471.0,798.0 472.6,797.0 474.3,796.8 476.0,796.3 477.7,796.3 479.4,795.6 481.1,795.5 482.7,794.9 484.4,794.4 486.1,794.1 487.8,793.9 489.5,793.9 491.1,793.3 492.8,792.9 494.5,792.4 496.1,792.3 497.7,792.4 499.3,791.4 501.0,791.1 502.6,791.1 504.2,790.6 505.8,790.5 507.4,789.9 509.0,790.1 510.6,789.6 512.2,789.7 513.9,789.2 515.5,788.7 517.1,788.5 518.7,788.4 520.3,787.2 521.9,786.3 523.5,785.5 525.1,784.7 526.7,783.7 528.4,784.0 530.2,784.3 531.9,784.3 533.6,785.0 535.3,785.2 537.1,785.8 538.8,785.7 540.7,786.2 542.6,786.4 544.4,786.8 546.3,787.0 548.2,787.1 549.8,786.3 551.4,785.4 553.1,784.7 554.7,784.0 556.3,783.0 558.6,780.2 561.0,777.0 562.7,776.4 564.4,775.4 566.2,776.5 568.0,777.0 570.2,780.4 572.4,783.7 574.0,786.0 575.6,788.4 577.3,791.1 578.9,793.6 580.5,795.8 582.1,796.0 583.7,796.3 585.4,796.8 587.0,796.7 588.6,797.1 590.2,797.7 591.9,798.5 594.5,797.0 596.6,794.5 597.7,782.0 598.7,770.5 599.7,782.0 600.7,794.5 602.4,808.0 605.0,811.0 606.9,811.2 608.7,811.9 610.4,811.5 612.1,811.8 613.8,811.8 615.5,812.6 617.3,814.7 619.0,817.0 620.8,819.3 623.5,815.0 625.5,808.0 627.6,794.5 628.8,770.0 629.6,748.1 630.5,770.0 632.0,794.5 632.5,808.0 633.9,821.3 636.0,829.0 639.0,832.1 641.1,833.3 643.3,834.7 645.4,836.3 647.0,836.1 648.7,835.6 650.3,835.6 652.0,835.8 653.6,835.5 655.3,835.5 656.9,835.3 658.6,835.6 660.2,835.0 661.9,834.4 663.5,834.5 665.2,834.2 666.8,833.7 668.5,833.5 670.1,833.4 671.8,833.9 673.4,833.4 675.1,833.6 676.7,833.2 678.4,832.5 680.0,833.0 681.6,832.5 683.2,833.0 684.8,832.9 686.4,832.5 688.0,832.2 689.6,832.5 691.2,832.0 692.8,831.9 694.4,832.1 696.0,832.1 697.6,831.9 699.2,831.3 700.8,830.7 702.4,830.8 704.0,830.5 705.6,830.3 707.2,830.1 708.8,829.7 710.4,829.3 712.0,829.5 713.6,829.5 715.2,829.2 716.8,829.3 718.4,828.9 720.0,829.0 721.6,828.8 723.2,828.4 724.8,828.5 726.4,828.0 728.0,828.1 729.6,828.4 731.2,827.7 732.8,827.8 734.4,827.8 736.0,827.9 737.6,827.7 739.2,827.2 740.8,827.6 742.4,827.2 744.0,826.6 745.6,826.8 747.2,826.0 748.8,825.8 750.4,826.1 752.0,825.7 753.6,825.5 755.2,826.0 756.8,825.8 758.4,825.5 760.0,825.0 761.7,824.9 763.3,825.3 765.0,825.1 766.6,824.9 768.3,824.0 769.9,824.0 771.6,823.7 773.2,823.5 774.9,823.9 776.5,823.7 778.2,823.1 779.8,822.9 781.5,823.4 783.1,822.6 784.8,823.0 786.4,822.7 788.1,822.4 789.7,822.4 791.4,822.3 793.0,822.3 794.7,822.1 796.3,822.0 798.0,821.7 799.6,821.0 801.3,821.3 802.9,821.1 804.5,820.9 806.1,820.7 807.8,820.6 809.4,820.3 811.0,820.1 812.6,819.9 814.2,819.7 815.8,819.5 817.4,820.4 819.0,819.9 820.6,819.3 822.3,819.8 823.9,819.9 825.5,819.2 827.1,819.1 828.7,819.4 830.3,819.2 831.9,818.5 833.5,818.9 835.2,818.3 836.8,818.6 838.4,818.2 840.0,818.0 841.6,817.5 843.2,817.3 844.8,816.8 846.4,817.2 848.0,816.9 849.6,817.0 851.2,816.8 852.8,816.1 854.4,816.2 856.0,815.6 857.6,815.5 859.3,815.2 860.9,815.3 862.5,815.2 864.1,814.9 865.7,814.8 867.3,814.9 868.9,814.2 870.5,814.2 872.1,814.0 873.7,814.1 875.3,813.5 876.9,813.7 878.5,813.8 880.1,813.6 881.7,813.1 883.3,813.1 884.9,812.9 886.5,812.6 888.1,812.7 889.7,812.9 891.3,813.2 892.9,812.9 894.5,813.2 896.1,813.0 897.7,812.5 899.3,813.0 900.9,812.7 902.5,812.9 904.1,812.5 905.7,812.6 907.3,812.5 908.9,812.5 910.6,812.1 912.3,812.0 913.9,811.7 915.6,811.5 917.3,811.5 919.0,811.8 920.7,811.5 922.3,811.5 924.0,811.2 925.7,811.2 927.4,811.2 929.1,811.4 930.8,811.3 932.4,811.3 934.1,811.0 935.8,811.0 937.4,810.7 939.0,810.4 940.6,810.2 942.2,809.9 943.9,809.9 945.5,809.8 947.1,809.5 948.7,809.1 950.3,808.8 952.1,809.2 953.9,809.3 955.7,809.9 957.6,810.7 959.4,810.8 961.2,811.6 963.0,811.7 964.8,812.5 966.6,813.2 968.4,814.1 970.2,815.2 972.0,815.6 973.8,816.4 975.5,817.1 977.1,817.0 978.8,817.5 980.5,818.1 982.2,818.5 983.9,819.1 985.5,819.8 987.2,819.7 988.8,820.2 990.4,820.5 992.1,820.4 993.7,820.7 995.3,820.3 996.9,820.7 998.5,820.7 1000.2,821.4 1001.8,821.8 1003.4,821.8 1005.1,821.4 1006.9,821.5 1008.6,821.1 1010.4,821.4 1012.1,821.1 1013.8,821.1 1015.6,820.7 1017.3,820.8 1019.1,820.5 1020.8,820.4 1022.5,820.4 1024.2,820.2 1025.8,820.0 1027.5,819.8 1029.2,819.3 1030.9,819.3 1032.6,819.0 1034.3,819.0 1036.0,819.1 1037.6,818.9 1039.3,818.8 1041.0,818.4 1042.8,817.9 1044.6,817.9 1046.4,817.5 1048.2,816.8 1050.0,817.0 1051.8,815.9 1053.5,815.1 1055.3,814.5 1057.1,813.7 1058.7,814.4 1060.3,815.4 1062.0,816.3 1063.6,817.2 1065.2,817.7 1066.9,818.7 1068.6,819.3 1070.2,820.0 1071.9,821.1 1073.6,822.6 1075.3,824.3 1077.0,826.2 1078.7,827.8 1080.4,828.7 1082.1,829.4 1083.7,830.2 1085.4,831.2 1087.3,831.6 1089.2,832.0 1091.0,832.3 1092.9,832.5 1094.8,833.2 1096.5,833.4 1098.2,833.4 1099.9,833.8 1101.6,834.8 1103.3,834.6 1105.0,835.2 1106.7,835.0 1108.4,835.8 1110.0,835.8 1111.7,836.1 1113.4,836.5 1115.1,836.1 1116.8,836.2 1118.5,836.2 1120.2,835.8 1121.8,835.5 1123.5,835.4 1125.2,834.5 1126.9,834.5 1128.7,833.8 1130.4,834.0 1132.2,833.5 1133.9,833.0 1135.7,833.2 1137.4,832.6 1139.2,831.9 1140.9,831.6 1142.7,831.4 1144.4,831.1 1146.0,831.0 1147.7,831.7 1149.3,832.2 1151.0,832.2 1152.6,832.7 1154.3,833.3 1155.9,833.4 1157.6,833.9 1159.2,834.5 1161.0,834.0 1162.7,833.6 1164.5,833.1 1166.2,830.7 1167.9,828.3 1169.6,825.9 1171.3,823.7 1173.4,819.5 1175.5,815.5 1177.1,813.5 1178.7,811.9 1181.7,816.0 1184.7,823.7 1186.7,832.4 1188.7,841.2 1190.5,843.8 1192.3,846.5 1194.1,849.2 1195.7,848.7 1197.3,848.3 1199.0,848.3 1200.6,848.1 1202.2,847.9 1204.2,847.0 1206.2,845.7 1208.2,844.9 1210.2,847.1 1212.3,849.6 1214.3,851.9 1216.1,856.3 1217.9,860.9 1219.7,865.4 1221.4,867.4 1223.1,869.4 1224.7,871.4 1226.4,873.4 1228.8,873.3 1231.1,873.4 1233.6,865.2 1234.7,860.1 1235.6,852.9 1236.2,844.7 1236.6,834.4 1237.0,822.1 1237.4,809.9 1237.6,797.5 1237.9,786.3 1238.1,778.1 1238.3,772.9 1238.5,770.9 1238.7,773.1 1238.9,778.5 1239.1,787.1 1239.4,799.0 1239.6,811.9 1240.0,824.8 1240.4,837.8 1240.8,848.6 1241.4,857.2 1242.3,864.8 1243.4,870.2 1245.6,874.5 1247.9,878.8 1249.7,878.8 1251.5,879.4 1253.3,880.2 1255.0,879.6 1256.6,879.8 1258.3,879.9 1259.9,879.3 1261.6,879.5 1263.2,879.6 1264.9,879.1 1266.5,879.1 1268.2,879.0 1269.8,879.4 1271.5,879.4 1273.1,879.1 1274.8,878.8 1276.5,878.1 1278.2,878.0 1279.8,877.7 1281.5,878.0 1283.2,878.4 1284.9,877.5 1286.6,877.6 1288.2,877.3 1289.9,877.1 1291.6,876.9 1293.3,877.1 1295.0,877.2 1296.7,877.1 1298.3,876.4 1300.0,876.8 1301.7,876.1 1303.3,876.3 1304.9,876.4 1306.5,876.4 1308.1,876.4 1309.8,875.8 1311.4,876.0 1313.0,875.4 1314.6,874.9 1316.2,875.2 1317.8,875.1 1319.4,874.6 1321.0,874.5 1322.7,874.4 1324.3,874.7 1325.9,874.4 1327.5,874.4 1329.1,874.2 1330.7,873.7 1332.3,874.3 1333.9,873.8 1335.6,873.6 1337.2,873.9 1338.8,873.3 1340.4,873.2 1342.0,873.4 1343.8,873.0 1345.6,873.9 1347.4,873.4 1349.2,873.8 1351.0,874.1 1352.8,874.1 1354.5,873.9 1356.2,873.1 1357.8,873.0 1359.5,872.7 1361.2,872.6 1362.8,872.3 1364.5,871.8 1366.2,871.4 1367.8,870.9 1369.5,870.8 1371.1,871.2 1372.7,871.1 1374.4,871.8 1376.0,872.1 1377.7,871.6 1379.3,871.5 1380.9,870.8 1382.6,871.1 1384.2,871.0 1385.8,871.2 1387.5,872.0 1389.1,871.4 1390.8,870.8 1392.6,870.2 1394.3,869.8 1396.0,869.7 1397.7,869.5 1399.5,869.0 1401.2,868.7 1403.0,869.2 1404.8,869.8 1406.7,870.1 1408.5,869.9 1410.3,870.6 1412.1,870.8 1413.8,871.6 1415.6,872.4 1417.3,873.0 1419.0,874.0 1420.7,874.4 1422.5,875.3 1424.2,875.5 1425.9,875.4 1427.6,875.0 1429.2,874.4 1430.9,874.1 1431.5,871.0 1433.1,869.0 1434.3,866.3 1435.1,863.1 1435.7,859.2 1436.3,854.5 1436.7,849.8 1437.1,845.1 1437.5,840.8 1437.8,837.6 1438.0,835.7 1438.3,834.9 1438.6,835.8 1438.8,837.9 1439.1,841.3 1439.5,846.0 1439.9,851.1 1440.3,856.2 1440.9,861.3 1441.5,865.6 1442.3,869.0 1443.5,872.0 1445.1,874.1 1446.0,877.5 1448.4,878.8 1450.0,878.2 1451.6,878.9 1453.3,878.6 1454.9,878.5 1456.5,878.8 1458.1,878.8 1459.7,877.8 1461.3,878.0 1463.0,878.3 1464.6,878.1 1466.2,878.0 1467.8,877.7 1469.4,877.4 1471.0,877.2 1472.6,877.1 1474.2,877.0 1475.9,877.0 1477.5,877.0 1479.1,876.4 1480.7,876.1 1482.4,876.1 1484.1,875.6 1485.7,875.4 1487.4,875.7 1489.1,875.5 1490.8,875.0 1492.5,875.2 1494.2,874.6 1495.8,874.3 1497.5,873.9 1499.2,873.7 1500.9,873.7 1502.6,873.7 1504.2,873.2 1505.9,873.4 1507.6,872.8 1509.3,872.9 1511.0,872.4 1512.6,872.3 1514.3,871.9 1516.0,872.1 1517.7,871.8 1519.4,871.4 1521.0,871.2 1522.7,871.0 1524.4,871.0 1526.1,870.7 1527.8,870.0 1529.5,870.4 1531.1,869.8 1532.8,869.5 1534.5,869.4 1536.2,869.2 1537.8,868.9 1539.5,868.9 1541.2,868.9 1542.9,869.3 1544.5,869.0 1546.2,868.5 1547.9,868.5 1549.6,868.6 1551.2,868.2 1552.9,868.8 1554.6,868.4 1556.3,868.3 1558.0,868.7 1559.6,868.3 1561.3,868.1 1563.2,867.5 1565.1,867.1 1567.0,866.4 1568.9,865.8 1570.8,864.7 1572.4,864.2 1574.0,863.2 1575.6,862.4 1577.2,861.8 1578.8,860.7 1580.5,862.0 1582.2,863.6 1583.8,864.8 1585.5,866.0 1587.3,871.5 1589.1,876.8 1590.9,882.2 1592.7,887.1 1594.5,892.1 1596.3,897.0 1598.1,898.9 1599.9,901.1 1601.7,903.0 1603.3,898.9 1605.0,895.0 1607.0,870.0 1608.6,800.0 1609.4,755.0 1610.9,694.0 1611.8,616.3 1612.7,694.0 1614.2,755.0 1615.0,800.0 1616.5,870.0 1618.5,905.0 1620.5,915.0 1623.2,919.2 1625.6,918.4 1628.0,917.5 1630.0,916.6 1631.9,915.8 1633.8,916.9 1635.6,918.3 1637.5,919.7 1639.3,921.2 1641.0,921.3 1642.7,921.5 1644.4,922.2 1646.1,922.5 1647.7,922.4 1649.3,921.9 1650.9,921.6 1652.5,921.9 1654.2,921.5 1655.8,921.1 1657.4,921.4 1659.0,921.2 1660.6,921.3 1662.2,920.5 1663.9,921.0 1665.5,921.3 1667.2,921.8 1668.9,922.1 1670.6,922.0 1672.2,922.3 1673.9,922.7 1675.6,923.2 1677.5,923.3 1679.4,923.2 1681.2,922.5 1683.1,922.7 1685.0,922.5 1687.0,920.7 1689.0,919.0 1690.7,917.0 1692.4,914.9 1694.2,915.2 1695.9,916.3 1697.7,917.1 1699.4,917.8 1701.2,918.5 1702.8,920.4 1704.5,921.7 1706.1,923.5 1707.9,924.3 1709.7,925.4 1711.5,926.1 1713.3,927.0 1715.1,927.3 1716.8,927.6 1718.5,927.6 1720.2,928.0 1721.9,928.1 1723.5,928.6 1725.2,928.5 1726.9,929.1 1728.6,929.5 1730.3,929.6 1732.4,927.2 1734.5,925.0 1737.0,918.5 1738.9,916.0 1741.0,919.0 1743.5,926.0 1745.1,927.5 1746.8,928.8 1748.4,930.3 1750.1,930.4 1751.9,929.8 1753.6,930.2 1755.3,929.7 1757.0,929.5 1758.8,929.8 1760.5,929.6 1762.2,929.6 1764.0,930.2 1765.7,930.9 1767.4,931.8 1769.1,931.9 1770.9,932.6 1772.6,933.4 1774.4,932.8 1776.1,933.6 1777.9,933.2 1779.7,933.4 1781.4,934.0 1783.2,934.1 1785.7,925.0 1787.6,918.0 1789.2,915.7 1791.5,920.0 1793.8,925.0 1796.0,925.6 1798.3,925.8 1800.6,931.4 1802.9,937.1 1804.9,937.2 1806.9,938.2 1808.9,938.7 1810.6,938.8 1812.3,938.8 1814.0,938.8 1815.7,938.5 1817.4,938.7 1819.1,938.4 1820.8,938.9 1822.5,938.9 1824.2,938.5 1825.9,938.8 1827.6,938.6 1829.3,938.4 1831.0,938.4 1832.7,938.4 1834.4,938.4 1836.1,939.0 1837.8,938.7 1839.6,938.7 1841.3,938.6 1843.0,939.3 1844.7,939.5 1846.5,939.5 1848.2,939.4 1850.0,938.6 1851.8,937.5 1853.7,936.8 1855.5,935.9 1857.3,935.3 1859.3,937.5 1861.4,939.7 1863.4,941.7 1865.2,942.1 1866.9,942.1 1868.7,942.5 1870.5,942.7 1872.2,943.4 1874.0,944.0 1875.6,943.6 1877.3,943.6 1878.9,943.8 1880.6,943.8 1882.2,943.5 1883.9,943.2 1885.5,942.8 1887.2,943.2 1888.8,942.7 1890.5,942.2 1892.1,942.4 1893.8,942.4 1895.4,943.1 1897.1,943.5 1898.7,943.5 1900.4,944.2 1902.1,944.3 1903.7,944.7 1905.4,945.1 1907.0,945.5 1908.7,946.2 1910.5,945.5 1912.3,945.6 1914.2,946.1 1916.0,946.0 1917.8,946.2 1920.1,942.2 1922.4,938.0 1925.3,932.0 1927.6,929.6 1930.0,934.0 1932.5,943.0 1934.2,947.0 1936.0,950.8 1937.8,951.4 1939.6,952.0 1941.4,952.9 1943.2,953.5 1945.0,953.8 1946.6,954.0 1948.2,954.4 1949.8,954.0 1951.4,953.7 1953.0,954.0 1954.6,954.2 1956.2,953.4 1957.8,953.6 1959.5,953.8 1961.1,954.1 1962.7,954.5 1964.3,954.5 1965.9,954.7 1967.5,954.6 1969.1,953.7 1970.7,954.2 1972.3,953.8 1974.0,953.9 1975.7,954.2 1977.3,954.2 1979.0,954.4 1980.7,954.2 1982.4,954.1 1984.0,954.1 1985.7,954.4 1987.4,954.5 1989.1,954.8 1990.8,954.7 1992.4,954.0 1994.1,953.9 1995.8,953.7 1997.5,953.4 1999.1,953.1 2000.8,952.6 2002.5,952.3 2004.2,952.9 2005.9,952.7 2007.5,952.6 2009.2,952.6 2010.9,952.5 2012.6,952.7 2014.2,952.8 2015.9,953.2 2017.6,953.0 2019.3,953.9 2021.1,954.1 2022.8,954.9 2024.5,954.9 2026.2,955.8 2028.0,956.4 2029.7,956.8 2031.6,955.8 2033.5,954.6 2035.4,953.5 2037.3,952.3 2039.3,953.9 2041.4,955.7 2043.4,957.5 2045.2,959.3 2046.9,961.1 2048.7,962.5 2050.8,963.2 2053.0,963.5" stroke="#00ffff" stroke-width="9.2"/>
</g>
<g stroke="#000" stroke-width="5" stroke-dasharray="15.3 12.4" fill="none">
<line x1="632.5" y1="462.1" x2="632.5" y2="644.4"/>
<line x1="1238.6" y1="362.5" x2="1238.6" y2="543"/>
<line x1="1437.0" y1="409.6" x2="1437.0" y2="590.8"/>
<line x1="1611.1" y1="141.2" x2="1611.1" y2="322.8"/>
<line x1="1639.7" y1="489.3" x2="1638.3" y2="878.8" stroke-dashoffset="13.9"/>
<line x1="1743.5" y1="617.1" x2="1743.5" y2="799.2"/>
<line x1="1863.6" y1="872.1" x2="1863.6" y2="1053.6"/>
<line x1="1934.6" y1="870.1" x2="1934.6" y2="1051.8"/>
</g>
<path d="M938 794.5 C938 770 945 763 958 763 L1052 763 C1064 763 1073.5 750 1073.5 731 C1073.5 750 1083 763 1095 763 L1188 763 C1201 763 1208.5 770 1208.5 794.5" fill="none" stroke="#000" stroke-width="2.5"/>
<g shape-rendering="crispEdges">
<rect x="226" y="194" width="6" height="1142" fill="#000"/>
<rect x="226" y="1310" width="1825" height="5" fill="#000"/>
<rect x="2045" y="1310" width="6" height="26" fill="#000"/>
<rect x="1893" y="1310" width="6" height="14" fill="#000"/>
<rect x="1742" y="1310" width="6" height="26" fill="#000"/>
<rect x="1590" y="1310" width="6" height="14" fill="#000"/>
<rect x="1439" y="1310" width="6" height="26" fill="#000"/>
<rect x="1287" y="1310" width="6" height="14" fill="#000"/>
<rect x="1136" y="1310" width="6" height="26" fill="#000"/>
<rect x="984" y="1310" width="6" height="14" fill="#000"/>
<rect x="832" y="1310" width="6" height="26" fill="#000"/>
<rect x="681" y="1310" width="6" height="14" fill="#000"/>
<rect x="529" y="1310" width="6" height="26" fill="#000"/>
<rect x="378" y="1310" width="6" height="14" fill="#000"/>
<rect x="226" y="1310" width="6" height="26" fill="#000"/>
<rect x="215" y="281" width="17" height="5" fill="#000"/>
<rect x="215" y="455" width="17" height="5" fill="#000"/>
<rect x="215" y="630" width="17" height="5" fill="#000"/>
<rect x="215" y="804" width="17" height="5" fill="#000"/>
<rect x="215" y="979" width="17" height="5" fill="#000"/>
<rect x="215" y="1153" width="17" height="5" fill="#000"/>
<rect x="1795" y="16" width="3" height="468" fill="#000"/>
<rect x="2408" y="16" width="3" height="468" fill="#000"/>
<rect x="1795" y="480.5" width="616" height="3.5" fill="#000"/>
</g>
<text transform="translate(110.10,1421.90) scale(1.1532,1)" font-family="Liberation Sans, sans-serif" font-weight="bold" font-size="93.60" >1200</text>
<text transform="translate(412.93,1421.90) scale(1.1482,1)" font-family="Liberation Sans, sans-serif" font-weight="bold" font-size="93.60" >1000</text>
<text transform="translate(745.26,1421.90) scale(1.1590,1)" font-family="Liberation Sans, sans-serif" font-weight="bold" font-size="93.60" >800</text>
<text transform="translate(1047.74,1421.90) scale(1.1565,1)" font-family="Liberation Sans, sans-serif" font-weight="bold" font-size="93.60" >600</text>
<text transform="translate(1350.55,1421.90) scale(1.1662,1)" font-family="Liberation Sans, sans-serif" font-weight="bold" font-size="93.60" >400</text>
<text transform="translate(1654.24,1421.90) scale(1.1584,1)" font-family="Liberation Sans, sans-serif" font-weight="bold" font-size="93.60" >200</text>
<text transform="translate(2015.29,1421.90) scale(1.1906,1)" font-family="Liberation Sans, sans-serif" font-weight="bold" font-size="93.60" >0</text>
<text transform="translate(726.77,1539.20) scale(1.1493,1)" font-family="Liberation Sans, sans-serif" font-weight="bold" font-size="94.00" >Binding Energy (eV)</text>
<text transform="translate(0,99.5) scale(1.13,1)" font-family="Liberation Serif, serif" font-weight="bold" font-size="76.4"><tspan x="194.31" dy="-7.20" font-size="69.7">(</tspan><tspan x="219.58" dy="7.20" font-size="76.4">a</tspan><tspan x="259.33" dy="-7.20" font-size="69.7">)</tspan></text>
<text transform="translate(1588.71,121.80) scale(1.0947,1)" font-family="Liberation Sans, sans-serif" font-weight="bold" font-size="60.00" >C1s</text>
<text transform="translate(1198.83,335.00) scale(1.0859,1)" font-family="Liberation Sans, sans-serif" font-weight="bold" font-size="60.00" >O1s</text>
<text transform="translate(1398.83,390.70) scale(1.0898,1)" font-family="Liberation Sans, sans-serif" font-weight="bold" font-size="60.00" >N1s</text>
<text transform="translate(1618.85,400.90) scale(1.0779,1)" font-family="Liberation Sans, sans-serif" font-weight="bold" font-size="60.00" >Cl1s</text>
<text transform="translate(1669.53,483.90) scale(1.0803,1)" font-family="Liberation Sans, sans-serif" font-weight="bold" font-size="60.00" >S2s</text>
<text transform="translate(559.53,435.40) scale(1.0854,1)" font-family="Liberation Sans, sans-serif" font-weight="bold" font-size="60.00" >Cu2p3</text>
<text transform="translate(1819.82,813.30) scale(1.0875,1)" font-family="Liberation Sans, sans-serif" font-weight="bold" font-size="60.00" >Cu3s</text>
<text transform="translate(2004.23,905.80) scale(1.0842,1)" font-family="Liberation Sans, sans-serif" font-weight="bold" font-size="60.00" >Cu3p</text>
<text transform="translate(350.23,368.40) scale(1.0844,1)" font-family="Liberation Sans, sans-serif" font-weight="bold" font-size="60.00" >0.5 u</text>
<text transform="translate(1000.20,692.40) scale(1.0956,1)" font-family="Liberation Sans, sans-serif" font-weight="bold" font-size="60.00" >Cu</text>
<text transform="translate(1085.66,709.40) scale(1.1286,1)" font-family="Liberation Sans, sans-serif" font-weight="bold" font-size="39.00" >LM1-5</text>
<text transform="translate(1995.95,75.60) scale(1.1895,1)" font-family="Liberation Sans, sans-serif" font-weight="bold" font-size="61.00" >D</text>
<text transform="translate(1995.81,150.30) scale(1.1559,1)" font-family="Liberation Sans, sans-serif" font-weight="bold" font-size="61.00" >Copper 0h</text>
<text transform="translate(1995.81,225.00) scale(1.1559,1)" font-family="Liberation Sans, sans-serif" font-weight="bold" font-size="61.00" >Copper 2h</text>
<text transform="translate(1995.81,299.70) scale(1.1562,1)" font-family="Liberation Sans, sans-serif" font-weight="bold" font-size="61.00" >Copper 12h</text>
<text transform="translate(1995.81,374.40) scale(1.1562,1)" font-family="Liberation Sans, sans-serif" font-weight="bold" font-size="61.00" >Copper 24h</text>
<text transform="translate(1995.81,449.10) scale(1.1562,1)" font-family="Liberation Sans, sans-serif" font-weight="bold" font-size="61">Copper 72<tspan font-weight="normal">h</tspan></text>
<line x1="1827.8" y1="57.5" x2="1976.2" y2="57.5" stroke="#808080" stroke-width="9.5" stroke-linecap="round"/>
<line x1="1826.2" y1="131.9" x2="1977.8" y2="131.9" stroke="#000000" stroke-width="6.5" stroke-linecap="round"/>
<line x1="1826.8" y1="206.3" x2="1977.2" y2="206.3" stroke="#ff0000" stroke-width="7.5" stroke-linecap="round"/>
<line x1="1826.8" y1="280.7" x2="1977.2" y2="280.7" stroke="#00ff00" stroke-width="7.5" stroke-linecap="round"/>
<line x1="1826.8" y1="355.1" x2="1977.2" y2="355.1" stroke="#0000ff" stroke-width="7.5" stroke-linecap="round"/>
<line x1="1826.8" y1="429.5" x2="1977.2" y2="429.5" stroke="#00ffff" stroke-width="7.5" stroke-linecap="round"/>
<text transform="translate(105.0,930.0) rotate(-90) scale(1.13,1)" font-family="Liberation Sans, sans-serif" font-weight="bold" font-size="94.0"><tspan x="11.66 53.84">10</tspan><tspan x="99.06" dy="-50" font-size="63">6</tspan><tspan x="127.89 186.11 235.19 283.36 332.76" dy="50">Count</tspan><tspan x="356.63 380.78" font-style="italic">/s</tspan></text>
<g stroke="#000" fill="#000" stroke-linejoin="round">
<line x1="335.2" y1="290" x2="335.2" y2="441" stroke-width="8"/>
<path d="M335.2 274.5 L345 303.5 L325.4 303.5 Z" stroke-width="4"/>
<path d="M335.2 456.5 L345 427.5 L325.4 427.5 Z" stroke-width="4"/>
</g>

</svg>
</body></html>
